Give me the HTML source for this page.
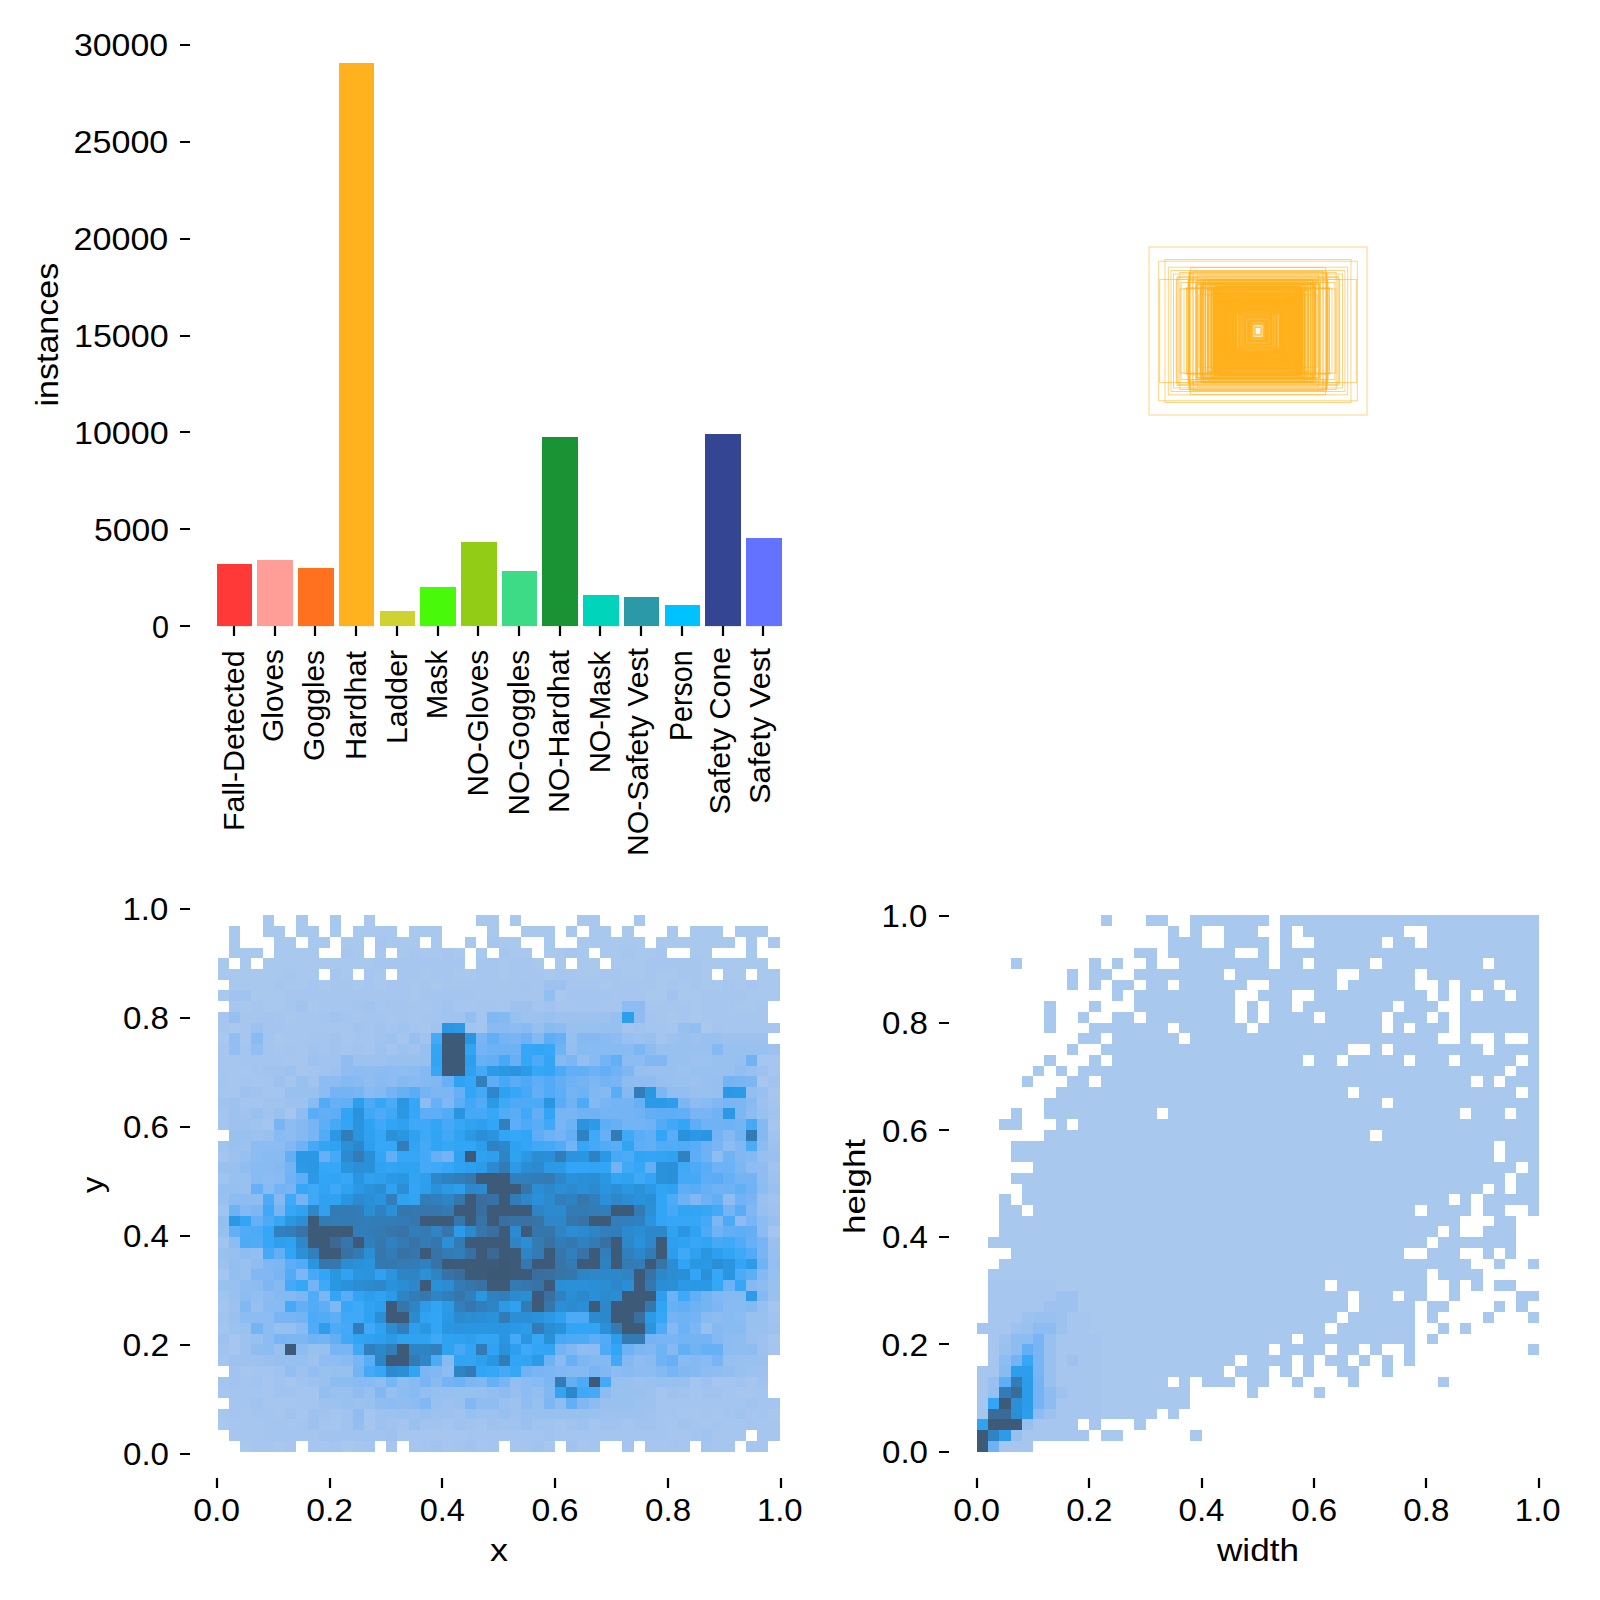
<!DOCTYPE html>
<html><head><meta charset="utf-8"><title>labels</title>
<style>html,body{margin:0;padding:0;background:#fff}svg{display:block}text{font-family:"Liberation Sans",sans-serif;fill:#000}</style>
</head><body>
<svg width="1600" height="1600" viewBox="0 0 1600 1600">
<rect width="1600" height="1600" fill="#fff"/>
<rect x="217" y="564" width="35" height="62.11" fill="#FF3838"/>
<rect x="257" y="560" width="36" height="66.11" fill="#FF9D97"/>
<rect x="298" y="568" width="36" height="58.11" fill="#FF701F"/>
<rect x="339" y="63" width="35" height="563.11" fill="#FFB21D"/>
<rect x="380" y="611" width="35" height="15.11" fill="#CFD231"/>
<rect x="420" y="587" width="36" height="39.11" fill="#48F90A"/>
<rect x="461" y="542" width="36" height="84.11" fill="#92CC17"/>
<rect x="502" y="571" width="35" height="55.11" fill="#3DDB86"/>
<rect x="542" y="437" width="36" height="189.11" fill="#1A9334"/>
<rect x="583" y="595" width="36" height="31.11" fill="#00D4BB"/>
<rect x="624" y="597" width="35" height="29.11" fill="#2C99A8"/>
<rect x="665" y="605" width="35" height="21.11" fill="#00C2FF"/>
<rect x="705" y="434" width="36" height="192.11" fill="#344593"/>
<rect x="746" y="538" width="36" height="88.11" fill="#6473FF"/>
<g fill="none" stroke="#FFB21D" stroke-width="0.9" stroke-opacity="0.62"><rect x="1251.89" y="322.62" width="12.23" height="16.76"/><rect x="1251.02" y="320.74" width="13.95" height="20.53"/><rect x="1251.3" y="321.21" width="13.4" height="19.58"/><rect x="1254.85" y="327.12" width="6.29" height="7.75"/><rect x="1250.28" y="320.78" width="15.43" height="20.44"/><rect x="1250.5" y="323.07" width="15.01" height="15.86"/><rect x="1252.65" y="325" width="10.69" height="12.01"/><rect x="1252.28" y="323.64" width="11.44" height="14.72"/><rect x="1254.93" y="327.6" width="6.13" height="6.8"/><rect x="1253.6" y="324.59" width="8.79" height="12.82"/><rect x="1251.17" y="323.63" width="13.66" height="14.75"/><rect x="1251.01" y="323.53" width="13.97" height="14.94"/><rect x="1251.91" y="324.53" width="12.17" height="12.95"/><rect x="1254.99" y="326.68" width="6.02" height="8.64"/><rect x="1247.07" y="319.98" width="21.86" height="22.03"/><rect x="1236.25" y="301.93" width="43.51" height="58.14"/><rect x="1245.95" y="314.36" width="24.1" height="33.28"/><rect x="1242.45" y="311.74" width="31.1" height="38.53"/><rect x="1247.13" y="316.11" width="21.73" height="29.79"/><rect x="1240.33" y="306.56" width="35.34" height="48.88"/><rect x="1237.49" y="309.47" width="41.02" height="43.05"/><rect x="1244.94" y="318.17" width="26.11" height="25.67"/><rect x="1247.96" y="321.64" width="20.08" height="18.73"/><rect x="1245.78" y="316.32" width="24.44" height="29.36"/><rect x="1249.95" y="321.03" width="16.09" height="19.94"/><rect x="1245.27" y="317.57" width="25.46" height="26.86"/><rect x="1238.54" y="308.81" width="38.92" height="44.38"/><rect x="1245.58" y="316.83" width="24.84" height="28.34"/><rect x="1240.13" y="314.41" width="35.73" height="33.18"/><rect x="1236.35" y="311.27" width="43.3" height="39.47"/><rect x="1239.5" y="306.54" width="36.99" height="48.92"/><rect x="1249.75" y="320.32" width="16.51" height="21.36"/><rect x="1244.87" y="315.39" width="26.25" height="31.22"/><rect x="1249.87" y="323.5" width="16.25" height="15.01"/><rect x="1247.47" y="316.49" width="21.07" height="29.02"/><rect x="1247.25" y="317.26" width="21.5" height="27.48"/><rect x="1236.98" y="302.19" width="42.03" height="57.62"/><rect x="1245.18" y="317.19" width="25.64" height="27.63"/><rect x="1242.65" y="311.24" width="30.69" height="39.52"/><rect x="1248.49" y="318.88" width="19.03" height="24.24"/><rect x="1238.84" y="305.52" width="38.32" height="50.96"/><rect x="1249.49" y="319.31" width="17.03" height="23.37"/><rect x="1248.72" y="321.07" width="18.55" height="19.86"/><rect x="1241.45" y="308.51" width="33.1" height="44.99"/><rect x="1245.24" y="313.62" width="25.52" height="34.76"/><rect x="1242.37" y="314.49" width="31.26" height="33.02"/><rect x="1245.56" y="318.7" width="24.87" height="24.59"/><rect x="1248.91" y="322.14" width="18.19" height="17.72"/><rect x="1240.35" y="306.32" width="35.3" height="49.36"/><rect x="1247.74" y="321.52" width="20.52" height="18.97"/><rect x="1236.19" y="305.55" width="43.63" height="50.9"/><rect x="1244.32" y="317.06" width="27.36" height="27.88"/><rect x="1241.68" y="309.58" width="32.63" height="42.85"/><rect x="1243.62" y="315.03" width="28.76" height="31.95"/><rect x="1249.22" y="319.08" width="17.56" height="23.85"/><rect x="1249.54" y="321.3" width="16.92" height="19.4"/><rect x="1238.26" y="311.95" width="39.48" height="38.11"/><rect x="1239.76" y="305.92" width="36.49" height="50.17"/><rect x="1241.17" y="309.23" width="33.65" height="43.54"/><rect x="1248.51" y="320.39" width="18.99" height="21.21"/><rect x="1247.91" y="317.66" width="20.18" height="26.68"/><rect x="1245.87" y="317.34" width="24.25" height="27.32"/><rect x="1236.01" y="301.84" width="43.98" height="58.32"/><rect x="1236.34" y="306.59" width="43.33" height="48.82"/><rect x="1243.17" y="312.24" width="29.67" height="37.52"/><rect x="1243.29" y="315.62" width="29.41" height="30.75"/><rect x="1244.35" y="317.71" width="27.31" height="26.58"/><rect x="1244.72" y="312.49" width="26.56" height="37.02"/><rect x="1236.56" y="304.99" width="42.87" height="52.03"/><rect x="1243.01" y="314.97" width="29.98" height="32.06"/><rect x="1248.75" y="321.42" width="18.5" height="19.16"/><rect x="1239.05" y="305.73" width="37.9" height="50.54"/><rect x="1244.94" y="314.12" width="26.12" height="33.77"/><rect x="1239.15" y="307.49" width="37.7" height="47.02"/><rect x="1240.7" y="308.86" width="34.59" height="44.27"/><rect x="1244.91" y="314.61" width="26.18" height="32.78"/><rect x="1246.07" y="317.36" width="23.86" height="27.27"/><rect x="1239.22" y="307.62" width="37.55" height="46.77"/><rect x="1229.24" y="295.81" width="57.52" height="70.39"/><rect x="1235.73" y="311.11" width="44.53" height="39.79"/><rect x="1230.23" y="306.36" width="55.53" height="49.27"/><rect x="1221.11" y="300.71" width="73.78" height="60.59"/><rect x="1228" y="306.48" width="60" height="49.04"/><rect x="1227.95" y="307.57" width="60.1" height="46.86"/><rect x="1215.99" y="296.8" width="84.02" height="68.41"/><rect x="1224.08" y="309.59" width="67.83" height="42.81"/><rect x="1232.18" y="300.17" width="51.64" height="61.66"/><rect x="1220.1" y="304.88" width="75.81" height="52.24"/><rect x="1219.2" y="287.71" width="77.6" height="86.59"/><rect x="1220.69" y="287.66" width="74.62" height="86.68"/><rect x="1221.65" y="294.38" width="72.69" height="73.23"/><rect x="1235.36" y="313.7" width="45.27" height="34.59"/><rect x="1225.86" y="301.92" width="64.29" height="58.16"/><rect x="1221.49" y="298.84" width="73.02" height="64.33"/><rect x="1225.15" y="298.85" width="65.69" height="64.29"/><rect x="1228.7" y="300.93" width="58.6" height="60.15"/><rect x="1231.55" y="300.1" width="52.89" height="61.79"/><rect x="1221.93" y="294.48" width="72.14" height="73.03"/><rect x="1230.53" y="304.21" width="54.94" height="53.59"/><rect x="1229.59" y="303.53" width="56.81" height="54.94"/><rect x="1233.35" y="305.08" width="49.29" height="51.85"/><rect x="1221.89" y="300.64" width="72.22" height="60.72"/><rect x="1223.46" y="301.25" width="69.08" height="59.49"/><rect x="1217.17" y="287.66" width="81.65" height="86.68"/><rect x="1217.3" y="295.34" width="81.4" height="71.31"/><rect x="1222.29" y="300.49" width="71.41" height="61.02"/><rect x="1213.98" y="287.8" width="88.03" height="86.4"/><rect x="1215.45" y="291.58" width="85.1" height="78.83"/><rect x="1233.52" y="311.84" width="48.96" height="38.32"/><rect x="1221.52" y="298.79" width="72.95" height="64.42"/><rect x="1227.36" y="304.38" width="61.29" height="53.24"/><rect x="1213.63" y="287.74" width="88.73" height="86.52"/><rect x="1213.89" y="287.98" width="88.21" height="86.04"/><rect x="1213.44" y="292.57" width="89.13" height="76.86"/><rect x="1226.44" y="306.08" width="63.11" height="49.83"/><rect x="1229.41" y="287.73" width="57.17" height="86.53"/><rect x="1233.2" y="309.92" width="49.61" height="42.15"/><rect x="1218.02" y="296.84" width="79.96" height="68.31"/><rect x="1235.7" y="312.05" width="44.61" height="37.89"/><rect x="1218.02" y="293.26" width="79.97" height="75.49"/><rect x="1229.84" y="294.59" width="56.31" height="72.82"/><rect x="1222.02" y="287.55" width="71.97" height="86.9"/><rect x="1221.17" y="302.4" width="73.66" height="57.21"/><rect x="1218.51" y="298.68" width="78.98" height="64.64"/><rect x="1223.73" y="300.1" width="68.54" height="61.8"/><rect x="1225.32" y="295.16" width="65.36" height="71.68"/><rect x="1218.86" y="294.47" width="78.27" height="73.05"/><rect x="1225.52" y="300.26" width="64.96" height="61.48"/><rect x="1215.58" y="290.97" width="84.85" height="80.07"/><rect x="1226.16" y="300.36" width="63.68" height="61.29"/><rect x="1219.71" y="298.42" width="76.58" height="65.16"/><rect x="1227.13" y="305.06" width="61.73" height="51.87"/><rect x="1216.41" y="288.69" width="83.19" height="84.62"/><rect x="1234.48" y="304.89" width="47.04" height="52.22"/><rect x="1220.02" y="298.55" width="75.95" height="64.89"/><rect x="1215.05" y="288.21" width="85.89" height="85.57"/><rect x="1225" y="304.52" width="66.01" height="52.97"/><rect x="1232.47" y="307.68" width="51.06" height="46.64"/><rect x="1217.33" y="286.86" width="81.34" height="88.27"/><rect x="1217.79" y="289.93" width="80.42" height="82.15"/><rect x="1235.41" y="310.78" width="45.18" height="40.44"/><rect x="1219.87" y="307.75" width="76.26" height="46.5"/><rect x="1216.63" y="288.92" width="82.73" height="84.16"/><rect x="1219.61" y="288.23" width="76.77" height="85.54"/><rect x="1229.27" y="300.67" width="57.45" height="60.66"/><rect x="1226.48" y="301.84" width="63.04" height="58.33"/><rect x="1221.68" y="292.89" width="72.63" height="76.23"/><rect x="1234.34" y="307.53" width="47.31" height="46.93"/><rect x="1222.77" y="297.38" width="70.46" height="67.24"/><rect x="1226.07" y="309.14" width="63.86" height="43.73"/><rect x="1222.19" y="307.72" width="71.61" height="46.55"/><rect x="1234.72" y="307.8" width="46.56" height="46.39"/><rect x="1232.52" y="309.44" width="50.95" height="43.12"/><rect x="1223.24" y="301.91" width="69.52" height="58.17"/><rect x="1229.95" y="306.93" width="56.11" height="48.13"/><rect x="1224.11" y="299.45" width="67.78" height="63.1"/><rect x="1230.61" y="309.05" width="54.78" height="43.89"/><rect x="1219.59" y="287.19" width="76.81" height="87.62"/><rect x="1234.04" y="308.58" width="47.92" height="44.83"/><rect x="1222.34" y="298.56" width="71.32" height="64.88"/><rect x="1215.83" y="295.75" width="84.34" height="70.51"/><rect x="1235.32" y="308.58" width="45.36" height="44.83"/><rect x="1234.77" y="302.21" width="46.47" height="57.59"/><rect x="1230.87" y="294" width="54.26" height="74"/><rect x="1213.63" y="294.32" width="88.74" height="73.37"/><rect x="1221.63" y="304.09" width="72.74" height="53.82"/><rect x="1230.59" y="307.34" width="54.81" height="47.31"/><rect x="1227.13" y="294.29" width="61.74" height="73.41"/><rect x="1216.88" y="297.8" width="82.23" height="66.4"/><rect x="1216.41" y="299.45" width="83.17" height="63.11"/><rect x="1222.37" y="304.07" width="71.26" height="53.86"/><rect x="1233.77" y="310.23" width="48.46" height="41.55"/><rect x="1231.34" y="294.45" width="53.31" height="73.1"/><rect x="1218.51" y="289.17" width="78.98" height="83.65"/><rect x="1225.19" y="292.8" width="65.63" height="76.39"/><rect x="1225.29" y="303.7" width="65.42" height="54.59"/><rect x="1232.44" y="303.89" width="51.11" height="54.23"/><rect x="1215.75" y="288.2" width="84.5" height="85.61"/><rect x="1230.16" y="304.44" width="55.69" height="53.11"/><rect x="1230.59" y="301.62" width="54.82" height="58.76"/><rect x="1235.26" y="305.49" width="45.48" height="51.03"/><rect x="1220.18" y="296.93" width="75.63" height="68.13"/><rect x="1225.15" y="296.46" width="65.7" height="69.08"/><rect x="1229.3" y="303.94" width="57.39" height="54.12"/><rect x="1219.23" y="291.08" width="77.55" height="79.83"/><rect x="1230.7" y="301.8" width="54.6" height="58.41"/><rect x="1226.78" y="295.46" width="62.45" height="71.09"/><rect x="1225.24" y="300.04" width="65.53" height="61.92"/><rect x="1219.16" y="294.06" width="77.69" height="73.88"/><rect x="1220.54" y="298.09" width="74.92" height="65.82"/><rect x="1221.14" y="307.49" width="73.71" height="47.02"/><rect x="1234.6" y="303.39" width="46.8" height="55.22"/><rect x="1226.57" y="293.52" width="62.87" height="74.96"/><rect x="1224.06" y="296.04" width="67.87" height="69.92"/><rect x="1233.84" y="298.45" width="48.32" height="65.09"/><rect x="1214.48" y="288.39" width="87.04" height="85.22"/><rect x="1230.4" y="299.49" width="55.2" height="63.02"/><rect x="1230.13" y="302.47" width="55.75" height="57.07"/><rect x="1228.96" y="301.53" width="58.07" height="58.93"/><rect x="1231.87" y="305.27" width="52.25" height="51.47"/><rect x="1226.75" y="302.72" width="62.51" height="56.56"/><rect x="1233.52" y="307.57" width="48.97" height="46.86"/><rect x="1214.81" y="299.11" width="86.38" height="63.78"/><rect x="1235.6" y="313.1" width="44.8" height="35.81"/><rect x="1224.81" y="303.25" width="66.38" height="55.51"/><rect x="1219.31" y="296.05" width="77.38" height="69.9"/><rect x="1228.92" y="310.14" width="58.15" height="41.72"/><rect x="1233.34" y="304.55" width="49.32" height="52.9"/><rect x="1233.98" y="306.64" width="48.03" height="48.71"/><rect x="1233.01" y="313.24" width="49.97" height="35.52"/><rect x="1230.37" y="299.68" width="55.26" height="62.63"/><rect x="1230.36" y="301.62" width="55.29" height="58.76"/><rect x="1219.89" y="289.78" width="76.23" height="82.44"/><rect x="1227.4" y="300.29" width="61.19" height="61.42"/><rect x="1226.33" y="303.49" width="63.35" height="55.01"/><rect x="1215.39" y="287.19" width="85.22" height="87.62"/><rect x="1218.53" y="298.48" width="78.95" height="65.04"/><rect x="1220.92" y="297.89" width="74.15" height="66.22"/><rect x="1219.26" y="294.89" width="77.49" height="72.21"/><rect x="1227.2" y="304.7" width="61.59" height="52.59"/><rect x="1234.48" y="306.66" width="47.03" height="48.68"/><rect x="1229.43" y="299.87" width="57.13" height="62.27"/><rect x="1218.43" y="294.02" width="79.13" height="73.96"/><rect x="1233.01" y="307.09" width="49.99" height="47.83"/><rect x="1216.22" y="288.04" width="83.55" height="85.92"/><rect x="1226.14" y="302.26" width="63.73" height="57.47"/><rect x="1228.4" y="295.04" width="59.2" height="71.91"/><rect x="1219.28" y="292.76" width="77.43" height="76.48"/><rect x="1223.8" y="293.32" width="68.39" height="75.36"/><rect x="1214.41" y="286.91" width="87.17" height="88.18"/><rect x="1233.28" y="310.44" width="49.44" height="41.11"/><rect x="1226.01" y="287.62" width="63.97" height="86.77"/><rect x="1218.35" y="286.56" width="79.31" height="88.88"/><rect x="1222.29" y="299.07" width="71.42" height="63.87"/><rect x="1217.27" y="293.36" width="81.46" height="75.29"/><rect x="1235.24" y="308.31" width="45.51" height="45.38"/><rect x="1224.91" y="294.61" width="66.17" height="72.77"/><rect x="1229.63" y="306.45" width="56.74" height="49.09"/><rect x="1223.06" y="302.58" width="69.87" height="56.83"/><rect x="1227.91" y="294.55" width="60.18" height="72.91"/><rect x="1213.4" y="287.26" width="89.19" height="87.47"/><rect x="1226.78" y="308.09" width="62.44" height="45.83"/><rect x="1216.87" y="292.92" width="82.26" height="76.16"/><rect x="1233.73" y="307.38" width="48.54" height="47.24"/><rect x="1215.3" y="287.85" width="85.41" height="86.3"/><rect x="1220.29" y="286.77" width="75.41" height="88.45"/><rect x="1221.67" y="293.88" width="72.66" height="74.24"/><rect x="1224.23" y="302.99" width="67.54" height="56.02"/><rect x="1231.75" y="308.27" width="52.5" height="45.46"/><rect x="1228.82" y="299.85" width="58.36" height="62.29"/><rect x="1225.05" y="300.57" width="65.9" height="60.86"/><rect x="1217.24" y="297.44" width="81.51" height="67.12"/><rect x="1220.07" y="297.74" width="75.87" height="66.53"/><rect x="1227.66" y="306.52" width="60.69" height="48.95"/><rect x="1220.37" y="299.18" width="75.26" height="63.64"/><rect x="1233.99" y="308.15" width="48.01" height="45.7"/><rect x="1222.65" y="296.13" width="70.7" height="69.73"/><rect x="1214.63" y="298.83" width="86.74" height="64.35"/><rect x="1219.53" y="287.16" width="76.94" height="87.68"/><rect x="1213.99" y="286.71" width="88.02" height="88.59"/><rect x="1220.18" y="288.51" width="75.63" height="84.99"/><rect x="1231.2" y="310.47" width="53.6" height="41.05"/><rect x="1215.39" y="288.32" width="85.22" height="85.36"/><rect x="1226.95" y="288.49" width="62.1" height="85.01"/><rect x="1227.03" y="297.52" width="61.95" height="66.97"/><rect x="1215.07" y="287.27" width="85.87" height="87.45"/><rect x="1227.11" y="294.34" width="61.79" height="73.33"/><rect x="1219.55" y="287.75" width="76.9" height="86.5"/><rect x="1215.6" y="288.45" width="84.79" height="85.11"/><rect x="1221.69" y="290.42" width="72.62" height="81.16"/><rect x="1232.15" y="310.35" width="51.7" height="41.3"/><rect x="1234.56" y="312.65" width="46.88" height="36.7"/><rect x="1216.9" y="287.67" width="82.19" height="86.67"/><rect x="1226.22" y="305.48" width="63.57" height="51.04"/><rect x="1215.19" y="291.27" width="85.62" height="79.47"/><rect x="1213.77" y="288.13" width="88.46" height="85.75"/><rect x="1235.3" y="305.06" width="45.4" height="51.88"/><rect x="1231.77" y="301.57" width="52.46" height="58.86"/><rect x="1204.08" y="285.01" width="107.84" height="91.98"/><rect x="1202.65" y="283.61" width="110.71" height="94.78"/><rect x="1212.08" y="287.76" width="91.84" height="86.48"/><rect x="1200.48" y="279.73" width="115.04" height="102.55"/><rect x="1208.22" y="281.54" width="99.55" height="98.91"/><rect x="1203.32" y="280.25" width="109.36" height="101.51"/><rect x="1209.56" y="284.15" width="96.87" height="93.69"/><rect x="1200.39" y="287.9" width="115.22" height="86.21"/><rect x="1211.49" y="292.71" width="93.02" height="76.58"/><rect x="1210.65" y="294.42" width="94.7" height="73.16"/><rect x="1210.72" y="285.53" width="94.56" height="90.93"/><rect x="1211.43" y="283.11" width="93.15" height="95.77"/><rect x="1201.96" y="282.12" width="112.09" height="97.76"/><rect x="1200.94" y="283.88" width="114.11" height="94.25"/><rect x="1199.14" y="279.73" width="117.72" height="102.53"/><rect x="1203.62" y="279.59" width="108.75" height="102.81"/><rect x="1211.45" y="294.25" width="93.1" height="73.5"/><rect x="1212.03" y="292.49" width="91.93" height="77.02"/><rect x="1207.38" y="288.2" width="101.23" height="85.59"/><rect x="1202.79" y="283.37" width="110.42" height="95.26"/><rect x="1211.74" y="289.14" width="92.51" height="83.71"/><rect x="1204.85" y="289.62" width="106.3" height="82.76"/><rect x="1211.24" y="285.85" width="93.53" height="90.3"/><rect x="1207.38" y="284.38" width="101.23" height="93.25"/><rect x="1205.57" y="279.63" width="104.87" height="102.73"/><rect x="1198.82" y="294.77" width="118.35" height="72.45"/><rect x="1201.6" y="283.74" width="112.79" height="94.52"/><rect x="1208.56" y="294.01" width="98.88" height="73.97"/><rect x="1205.81" y="289.98" width="104.37" height="82.04"/><rect x="1201.94" y="280.39" width="112.12" height="101.23"/><rect x="1207.27" y="291.06" width="101.46" height="79.88"/><rect x="1205.52" y="284.15" width="104.96" height="93.69"/><rect x="1201.16" y="286.21" width="113.67" height="89.57"/><rect x="1208.56" y="290.27" width="98.88" height="81.46"/><rect x="1200.28" y="287.17" width="115.44" height="87.65"/><rect x="1212.24" y="288.85" width="91.51" height="84.31"/><rect x="1192.77" y="277.01" width="130.46" height="107.98"/><rect x="1196.39" y="284.12" width="123.23" height="93.76"/><rect x="1195.89" y="280.4" width="124.22" height="101.19"/><rect x="1176.34" y="279.26" width="163.32" height="103.49"/><rect x="1189.5" y="272.19" width="137" height="117.62"/><rect x="1195.98" y="282.6" width="124.04" height="96.81"/><rect x="1180.16" y="288.91" width="155.67" height="84.18"/><rect x="1181.15" y="282.5" width="153.7" height="97"/><rect x="1197.64" y="284.48" width="120.72" height="93.03"/><rect x="1187.92" y="282.11" width="140.16" height="97.78"/><rect x="1186.63" y="288.04" width="142.74" height="85.91"/><rect x="1193.19" y="271.46" width="129.62" height="119.07"/><rect x="1188.26" y="280.51" width="139.48" height="100.99"/><rect x="1196.12" y="283.98" width="123.76" height="94.05"/><rect x="1177" y="276.63" width="162.01" height="108.73"/><rect x="1186.83" y="288.05" width="142.34" height="85.91"/><rect x="1189.36" y="274.99" width="137.28" height="112.02"/><rect x="1188.44" y="278.32" width="139.13" height="105.37"/><rect x="1178.15" y="277.39" width="159.7" height="107.22"/><rect x="1184.01" y="288.35" width="147.98" height="85.3"/><rect x="1197.48" y="275.15" width="121.05" height="111.7"/><rect x="1188.91" y="273.26" width="138.18" height="115.47"/><rect x="1179.83" y="272.52" width="156.33" height="116.95"/><rect x="1189.67" y="271.02" width="136.66" height="119.97"/><rect x="1149" y="247" width="218" height="168"/><rect x="1158.7" y="261.2" width="198.6" height="139.6"/><rect x="1165" y="259.5" width="186" height="143"/><rect x="1168.3" y="267.2" width="179.4" height="127.6"/><rect x="1159.7" y="279.4" width="196.6" height="103.2"/><rect x="1171" y="270.5" width="174" height="121"/><rect x="1173.5" y="274" width="169" height="114"/><rect x="1190.6" y="267.4" width="134.8" height="127.2"/></g>
<g shape-rendering="crispEdges"><path fill="#a9c8ee" d="M263 915H274V926H263ZM296 915H308V926H296ZM330 915H341V926H330ZM364 915H375V926H364ZM476 915H499V926H476ZM510 915H521V926H510ZM577 915H600V926H577ZM634 915H645V926H634ZM229 926H240V937H229ZM263 926H285V937H263ZM296 926H319V937H296ZM330 926H341V937H330ZM353 926H397V937H353ZM409 926H442V937H409ZM487 926H499V937H487ZM521 926H555V937H521ZM566 926H577V937H566ZM589 926H611V937H589ZM622 926H634V937H622ZM667 926H678V937H667ZM690 926H723V937H690ZM735 926H768V937H735ZM229 937H240V948H229ZM274 937H296V948H274ZM308 937H330V948H308ZM341 937H364V948H341ZM386 937H420V948H386ZM431 937H442V948H431ZM465 937H476V948H465ZM499 937H521V948H499ZM544 937H555V948H544ZM577 937H645V948H577ZM656 937H735V948H656ZM746 937H757V948H746ZM768 937H780V948H768ZM229 948H263V958H229ZM274 948H319V958H274ZM353 948H364V958H353ZM375 948H386V958H375ZM397 948H409V958H397ZM420 948H442V958H420ZM454 948H465V958H454ZM476 948H487V958H476ZM510 948H532V958H510ZM544 948H566V958H544ZM577 948H589V958H577ZM600 948H622V958H600ZM634 948H656V958H634ZM690 948H712V958H690ZM746 948H757V958H746ZM218 958H229V969H218ZM240 958H251V969H240ZM263 958H375V969H263ZM499 958H510V969H499ZM532 958H544V969H532ZM555 958H566V969H555ZM577 958H600V969H577ZM611 958H645V969H611ZM701 958H768V969H701ZM218 969H285V980H218ZM296 969H319V980H296ZM341 969H353V980H341ZM375 969H386V980H375ZM420 969H431V980H420ZM454 969H476V980H454ZM499 969H510V980H499ZM544 969H555V980H544ZM577 969H600V980H577ZM622 969H645V980H622ZM656 969H678V980H656ZM701 969H712V980H701ZM723 969H746V980H723ZM757 969H780V980H757ZM229 980H274V990H229ZM285 980H308V990H285ZM319 980H330V990H319ZM353 980H364V990H353ZM375 980H386V990H375ZM409 980H420V990H409ZM431 980H442V990H431ZM600 980H611V990H600ZM656 980H667V990H656ZM678 980H690V990H678ZM701 980H723V990H701ZM735 980H746V990H735ZM757 980H780V990H757ZM218 990H229V1001H218ZM251 990H285V1001H251ZM409 990H420V1001H409ZM555 990H566V1001H555ZM645 990H667V1001H645ZM678 990H701V1001H678ZM746 990H780V1001H746ZM240 1001H251V1012H240ZM263 1001H285V1012H263ZM308 1001H319V1012H308ZM690 1001H701V1012H690ZM735 1001H757V1012H735ZM285 1012H296V1023H285ZM667 1012H678V1023H667ZM690 1012H701V1023H690ZM229 1023H240V1033H229ZM701 1023H712V1033H701ZM218 1033H229V1044H218ZM274 1033H285V1044H274ZM768 1409H780V1419H768ZM218 1419H229V1430H218ZM240 1441H251V1452H240ZM274 1441H285V1452H274ZM341 1441H353V1452H341Z"/>
<path fill="#a6c6ef" d="M375 937H386V948H375ZM487 937H499V948H487ZM341 948H353V958H341ZM409 948H420V958H409ZM442 948H454V958H442ZM499 948H510V958H499ZM566 948H577V958H566ZM622 948H634V958H622ZM656 948H667V958H656ZM375 958H465V969H375ZM476 958H499V969H476ZM510 958H532V969H510ZM645 958H701V969H645ZM285 969H296V980H285ZM330 969H341V980H330ZM364 969H375V980H364ZM397 969H420V980H397ZM431 969H454V980H431ZM476 969H499V980H476ZM510 969H544V980H510ZM555 969H577V980H555ZM600 969H622V980H600ZM645 969H656V980H645ZM678 969H701V980H678ZM274 980H285V990H274ZM308 980H319V990H308ZM330 980H353V990H330ZM364 980H375V990H364ZM386 980H409V990H386ZM420 980H431V990H420ZM442 980H521V990H442ZM532 980H544V990H532ZM566 980H600V990H566ZM611 980H656V990H611ZM667 980H678V990H667ZM690 980H701V990H690ZM723 980H735V990H723ZM746 980H757V990H746ZM285 990H409V1001H285ZM476 990H544V1001H476ZM611 990H645V1001H611ZM701 990H746V1001H701ZM229 1001H240V1012H229ZM251 1001H263V1012H251ZM285 1001H296V1012H285ZM319 1001H353V1012H319ZM375 1001H386V1012H375ZM409 1001H431V1012H409ZM454 1001H476V1012H454ZM499 1001H510V1012H499ZM555 1001H577V1012H555ZM600 1001H622V1012H600ZM645 1001H690V1012H645ZM701 1001H735V1012H701ZM757 1001H768V1012H757ZM218 1012H229V1023H218ZM240 1012H263V1023H240ZM274 1012H285V1023H274ZM296 1012H319V1023H296ZM353 1012H364V1023H353ZM386 1012H397V1023H386ZM409 1012H420V1023H409ZM656 1012H667V1023H656ZM678 1012H690V1023H678ZM701 1012H768V1023H701ZM218 1023H229V1033H218ZM240 1023H251V1033H240ZM285 1023H353V1033H285ZM420 1023H431V1033H420ZM667 1023H678V1033H667ZM723 1023H780V1033H723ZM240 1033H251V1044H240ZM285 1033H308V1044H285ZM341 1033H353V1044H341ZM218 1044H229V1055H218ZM274 1044H285V1055H274ZM296 1044H308V1055H296ZM218 1055H240V1066H218ZM285 1055H308V1066H285ZM757 1055H780V1066H757ZM229 1066H251V1076H229ZM296 1066H308V1076H296ZM768 1066H780V1076H768ZM229 1076H240V1087H229ZM251 1076H263V1087H251ZM757 1076H768V1087H757ZM218 1087H240V1098H218ZM768 1087H780V1098H768ZM768 1119H780V1130H768ZM229 1334H240V1344H229ZM768 1334H780V1344H768ZM229 1344H240V1355H229ZM240 1366H251V1377H240ZM263 1377H274V1387H263ZM285 1377H296V1387H285ZM712 1377H723V1387H712ZM746 1377H757V1387H746ZM218 1387H229V1398H218ZM263 1387H274V1398H263ZM735 1387H757V1398H735ZM263 1398H296V1409H263ZM218 1409H229V1419H218ZM240 1409H251V1419H240ZM274 1409H285V1419H274ZM296 1409H308V1419H296ZM678 1409H701V1419H678ZM712 1409H723V1419H712ZM746 1409H757V1419H746ZM229 1419H263V1430H229ZM285 1419H296V1430H285ZM330 1419H341V1430H330ZM364 1419H375V1430H364ZM667 1419H678V1430H667ZM701 1419H712V1430H701ZM723 1419H746V1430H723ZM757 1419H780V1430H757ZM229 1430H263V1441H229ZM397 1430H465V1441H397ZM667 1430H690V1441H667ZM712 1430H746V1441H712ZM757 1430H780V1441H757ZM251 1441H274V1452H251ZM285 1441H296V1452H285ZM308 1441H330V1452H308ZM353 1441H364V1452H353ZM386 1441H397V1452H386ZM409 1441H420V1452H409ZM442 1441H454V1452H442ZM476 1441H487V1452H476ZM510 1441H521V1452H510ZM544 1441H555V1452H544ZM577 1441H589V1452H577ZM645 1441H667V1452H645ZM678 1441H690V1452H678ZM712 1441H735V1452H712ZM746 1441H768V1452H746Z"/>
<path fill="#a3c5ef" d="M521 980H532V990H521ZM420 990H476V1001H420ZM566 990H611V1001H566ZM353 1001H364V1012H353ZM386 1001H409V1012H386ZM431 1001H442V1012H431ZM476 1001H499V1012H476ZM532 1001H544V1012H532ZM577 1001H600V1012H577ZM263 1012H274V1023H263ZM319 1012H330V1023H319ZM341 1012H353V1023H341ZM364 1012H386V1023H364ZM397 1012H409V1023H397ZM420 1012H442V1023H420ZM476 1012H487V1023H476ZM645 1012H656V1023H645ZM263 1023H285V1033H263ZM364 1023H375V1033H364ZM386 1023H397V1033H386ZM409 1023H420V1033H409ZM476 1023H487V1033H476ZM622 1023H634V1033H622ZM645 1023H667V1033H645ZM712 1023H723V1033H712ZM263 1033H274V1044H263ZM308 1033H330V1044H308ZM353 1033H375V1044H353ZM397 1033H409V1044H397ZM656 1033H667V1044H656ZM240 1044H251V1055H240ZM263 1044H274V1055H263ZM285 1044H296V1055H285ZM319 1044H330V1055H319ZM341 1044H353V1055H341ZM364 1044H375V1055H364ZM386 1044H397V1055H386ZM240 1055H285V1066H240ZM218 1066H229V1076H218ZM251 1066H263V1076H251ZM308 1066H319V1076H308ZM218 1076H229V1087H218ZM240 1076H251V1087H240ZM263 1076H274V1087H263ZM285 1076H296V1087H285ZM263 1087H285V1098H263ZM240 1098H263V1108H240ZM768 1098H780V1108H768ZM218 1108H229V1119H218ZM285 1108H296V1119H285ZM218 1119H229V1130H218ZM263 1119H274V1130H263ZM218 1151H229V1162H218ZM768 1226H780V1237H768ZM218 1269H229V1280H218ZM218 1301H229V1312H218ZM768 1301H780V1312H768ZM218 1323H229V1334H218ZM768 1344H780V1355H768ZM218 1355H229V1366H218ZM251 1366H274V1377H251ZM218 1377H229V1387H218ZM240 1377H251V1387H240ZM690 1377H701V1387H690ZM723 1377H735V1387H723ZM229 1387H263V1398H229ZM296 1387H319V1398H296ZM656 1387H667V1398H656ZM690 1387H701V1398H690ZM723 1387H735V1398H723ZM757 1387H768V1398H757ZM229 1398H251V1409H229ZM296 1398H319V1409H296ZM656 1398H746V1409H656ZM757 1398H780V1409H757ZM229 1409H240V1419H229ZM251 1409H274V1419H251ZM330 1409H341V1419H330ZM364 1409H375V1419H364ZM656 1409H678V1419H656ZM701 1409H712V1419H701ZM723 1409H735V1419H723ZM757 1409H768V1419H757ZM263 1419H285V1430H263ZM296 1419H308V1430H296ZM319 1419H330V1430H319ZM397 1419H409V1430H397ZM442 1419H454V1430H442ZM476 1419H487V1430H476ZM555 1419H566V1430H555ZM589 1419H600V1430H589ZM622 1419H634V1430H622ZM656 1419H667V1430H656ZM690 1419H701V1430H690ZM712 1419H723V1430H712ZM746 1419H757V1430H746ZM263 1430H319V1441H263ZM465 1430H544V1441H465ZM555 1430H667V1441H555ZM690 1430H701V1441H690ZM330 1441H341V1452H330ZM364 1441H375V1452H364ZM420 1441H431V1452H420ZM454 1441H465V1452H454ZM487 1441H499V1452H487ZM521 1441H532V1452H521ZM589 1441H600V1452H589ZM622 1441H634V1452H622ZM667 1441H678V1452H667ZM701 1441H712V1452H701Z"/>
<path fill="#a0c4ef" d="M229 990H251V1001H229ZM667 990H678V1001H667ZM296 1001H308V1012H296ZM364 1001H375V1012H364ZM442 1001H454V1012H442ZM544 1001H555V1012H544ZM330 1012H341V1023H330ZM442 1012H465V1023H442ZM353 1023H364V1033H353ZM375 1023H386V1033H375ZM397 1023H409V1033H397ZM431 1023H442V1033H431ZM465 1023H476V1033H465ZM634 1023H645V1033H634ZM330 1033H341V1044H330ZM375 1033H386V1044H375ZM420 1033H431V1044H420ZM308 1044H319V1055H308ZM330 1044H341V1055H330ZM353 1044H364V1055H353ZM409 1044H420V1055H409ZM319 1055H341V1066H319ZM263 1066H285V1076H263ZM319 1066H330V1076H319ZM308 1076H319V1087H308ZM768 1076H780V1087H768ZM251 1087H263V1098H251ZM218 1098H229V1108H218ZM263 1098H285V1108H263ZM240 1108H251V1119H240ZM263 1108H274V1119H263ZM768 1108H780V1119H768ZM251 1119H263V1130H251ZM768 1130H780V1141H768ZM218 1141H229V1151H218ZM768 1162H780V1173H768ZM218 1173H229V1184H218ZM768 1194H780V1205H768ZM218 1205H229V1216H218ZM218 1237H229V1248H218ZM218 1291H229V1301H218ZM218 1312H229V1323H218ZM768 1312H780V1323H768ZM218 1344H229V1355H218ZM229 1366H240V1377H229ZM274 1366H285V1377H274ZM229 1377H240V1387H229ZM251 1377H263V1387H251ZM274 1377H285V1387H274ZM296 1377H308V1387H296ZM735 1377H746V1387H735ZM757 1377H768V1387H757ZM274 1387H296V1398H274ZM678 1387H690V1398H678ZM701 1387H723V1398H701ZM251 1398H263V1409H251ZM746 1398H757V1409H746ZM285 1409H296V1419H285ZM319 1409H330V1419H319ZM341 1409H353V1419H341ZM454 1409H465V1419H454ZM645 1409H656V1419H645ZM735 1409H746V1419H735ZM341 1419H353V1430H341ZM386 1419H397V1430H386ZM420 1419H442V1430H420ZM465 1419H476V1430H465ZM499 1419H521V1430H499ZM532 1419H555V1430H532ZM566 1419H577V1430H566ZM600 1419H622V1430H600ZM634 1419H656V1430H634ZM678 1419H690V1430H678ZM319 1430H386V1441H319ZM544 1430H555V1441H544ZM701 1430H712V1441H701ZM431 1441H442V1452H431ZM465 1441H476V1452H465ZM532 1441H544V1452H532ZM566 1441H577V1452H566Z"/>
<path fill="#9dc2f0" d="M544 980H566V990H544ZM510 1001H532V1012H510ZM521 1012H544V1023H521ZM555 1012H611V1023H555ZM251 1023H263V1033H251ZM386 1033H397V1044H386ZM634 1033H645V1044H634ZM667 1033H678V1044H667ZM690 1033H701V1044H690ZM723 1033H768V1044H723ZM375 1044H386V1055H375ZM397 1044H409V1055H397ZM768 1044H780V1055H768ZM308 1055H319V1066H308ZM353 1055H386V1066H353ZM690 1055H712V1066H690ZM285 1066H296V1076H285ZM330 1066H341V1076H330ZM678 1066H690V1076H678ZM757 1066H768V1076H757ZM274 1076H285V1087H274ZM690 1076H701V1087H690ZM240 1087H251V1098H240ZM229 1098H240V1108H229ZM285 1098H308V1108H285ZM757 1098H768V1108H757ZM229 1108H240V1119H229ZM229 1119H251V1130H229ZM251 1130H263V1141H251ZM240 1141H251V1151H240ZM768 1141H780V1151H768ZM229 1151H240V1162H229ZM768 1173H780V1184H768ZM768 1205H780V1216H768ZM218 1259H229V1269H218ZM229 1301H240V1312H229ZM229 1323H240V1334H229ZM768 1323H780V1334H768ZM218 1334H229V1344H218ZM240 1334H251V1344H240ZM757 1334H768V1344H757ZM240 1344H251V1355H240ZM757 1344H768V1355H757ZM229 1355H263V1366H229ZM308 1355H319V1366H308ZM296 1366H308V1377H296ZM746 1366H768V1377H746ZM308 1377H319V1387H308ZM634 1377H645V1387H634ZM701 1377H712V1387H701ZM645 1387H656V1398H645ZM667 1387H678V1398H667ZM319 1398H341V1409H319ZM353 1398H364V1409H353ZM442 1398H454V1409H442ZM510 1398H521V1409H510ZM634 1398H656V1409H634ZM308 1409H319V1419H308ZM375 1409H397V1419H375ZM409 1409H420V1419H409ZM431 1409H454V1419H431ZM476 1409H499V1419H476ZM510 1409H521V1419H510ZM600 1409H645V1419H600ZM308 1419H319V1430H308ZM375 1419H386V1430H375ZM454 1419H465V1430H454ZM487 1419H499V1430H487ZM577 1419H589V1430H577ZM386 1430H397V1441H386Z"/>
<path fill="#99c1f0" d="M544 1012H555V1023H544ZM566 1023H600V1033H566ZM622 1033H634V1044H622ZM645 1033H656V1044H645ZM678 1033H690V1044H678ZM701 1033H723V1044H701ZM656 1044H712V1055H656ZM723 1044H768V1055H723ZM386 1055H420V1066H386ZM667 1055H690V1066H667ZM712 1055H735V1066H712ZM645 1066H678V1076H645ZM690 1066H735V1076H690ZM746 1066H757V1076H746ZM296 1076H308V1087H296ZM667 1076H690V1087H667ZM701 1076H712V1087H701ZM285 1087H319V1098H285ZM690 1087H712V1098H690ZM757 1087H768V1098H757ZM251 1108H263V1119H251ZM274 1108H285V1119H274ZM757 1108H768V1119H757ZM229 1130H251V1141H229ZM263 1130H274V1141H263ZM229 1141H240V1151H229ZM768 1151H780V1162H768ZM218 1162H240V1173H218ZM229 1173H251V1184H229ZM240 1184H251V1194H240ZM768 1184H780V1194H768ZM218 1194H229V1205H218ZM757 1194H768V1205H757ZM768 1237H780V1248H768ZM218 1248H229V1259H218ZM240 1259H251V1269H240ZM240 1269H251V1280H240ZM218 1280H240V1291H218ZM768 1280H780V1291H768ZM229 1291H240V1301H229ZM768 1291H780V1301H768ZM229 1312H240V1323H229ZM746 1312H768V1323H746ZM240 1323H251V1334H240ZM746 1323H768V1334H746ZM746 1334H757V1344H746ZM274 1344H285V1355H274ZM308 1344H319V1355H308ZM263 1355H274V1366H263ZM735 1355H768V1366H735ZM319 1366H330V1377H319ZM735 1366H746V1377H735ZM319 1377H330V1387H319ZM622 1377H634V1387H622ZM645 1377H656V1387H645ZM667 1377H690V1387H667ZM330 1387H353V1398H330ZM454 1387H476V1398H454ZM611 1387H645V1398H611ZM341 1398H353V1409H341ZM364 1398H375V1409H364ZM431 1398H442V1409H431ZM454 1398H465V1409H454ZM499 1398H510V1409H499ZM600 1398H634V1409H600ZM397 1409H409V1419H397ZM420 1409H431V1419H420ZM465 1409H476V1419H465ZM521 1409H600V1419H521ZM409 1419H420V1430H409ZM521 1419H532V1430H521Z"/>
<path fill="#96c0f0" d="M229 1012H240V1023H229ZM510 1012H521V1023H510ZM611 1012H622V1023H611ZM532 1023H544V1033H532ZM600 1023H622V1033H600ZM678 1023H690V1033H678ZM409 1033H420V1044H409ZM566 1033H577V1044H566ZM420 1044H431V1055H420ZM420 1055H431V1066H420ZM735 1055H746V1066H735ZM634 1066H645V1076H634ZM656 1076H667V1087H656ZM712 1076H723V1087H712ZM712 1087H723V1098H712ZM240 1151H251V1162H240ZM757 1151H768V1162H757ZM218 1184H240V1194H218ZM757 1205H768V1216H757ZM768 1216H780V1226H768ZM218 1226H229V1237H218ZM229 1248H240V1259H229ZM768 1248H780V1259H768ZM768 1269H780V1280H768ZM251 1301H263V1312H251ZM757 1301H768V1312H757ZM274 1323H296V1334H274ZM701 1323H712V1334H701ZM251 1334H263V1344H251ZM319 1344H330V1355H319ZM274 1355H308V1366H274ZM723 1355H735V1366H723ZM330 1366H353V1377H330ZM611 1377H622V1387H611ZM656 1377H667V1387H656ZM364 1387H375V1398H364ZM386 1387H397V1398H386ZM431 1387H454V1398H431ZM476 1387H487V1398H476ZM510 1387H521V1398H510ZM532 1398H544V1409H532ZM499 1409H510V1419H499Z"/>
<path fill="#93bef1" d="M544 990H555V1001H544ZM465 1012H476V1023H465ZM690 1023H701V1033H690ZM229 1033H240V1044H229ZM229 1044H240V1055H229ZM251 1044H263V1055H251ZM566 1044H577V1055H566ZM577 1055H589V1066H577ZM735 1066H746V1076H735ZM667 1087H690V1098H667ZM746 1087H757V1098H746ZM218 1216H229V1226H218ZM251 1248H263V1259H251ZM229 1259H240V1269H229ZM768 1259H780V1269H768ZM229 1269H240V1280H229ZM251 1291H263V1301H251ZM285 1366H296V1377H285ZM308 1366H319V1377H308ZM723 1366H735V1377H723ZM510 1377H521V1387H510ZM319 1387H330V1398H319ZM420 1387H431V1398H420ZM487 1387H499V1398H487ZM532 1387H544V1398H532ZM353 1419H364V1430H353Z"/>
<path fill="#8fbdf1" d="M634 1012H645V1023H634ZM341 1055H353V1066H341ZM341 1066H353V1076H341ZM364 1066H375V1076H364ZM397 1066H409V1076H397ZM364 1076H375V1087H364ZM634 1076H656V1087H634ZM296 1108H308V1119H296ZM712 1151H723V1162H712ZM240 1162H251V1173H240ZM757 1162H768V1173H757ZM757 1173H768V1184H757ZM251 1194H263V1205H251ZM723 1194H735V1205H723ZM240 1248H251V1259H240ZM251 1259H263V1269H251ZM240 1280H251V1291H240ZM735 1334H746V1344H735ZM251 1344H263V1355H251ZM577 1344H589V1355H577ZM735 1344H746V1355H735ZM319 1355H341V1366H319ZM634 1355H645V1366H634ZM712 1366H723V1377H712ZM375 1377H386V1387H375ZM397 1377H409V1387H397ZM353 1387H364V1398H353ZM375 1398H386V1409H375ZM397 1398H409V1409H397ZM476 1398H499V1409H476ZM521 1398H532V1409H521ZM555 1398H566V1409H555ZM353 1409H364V1419H353Z"/>
<path fill="#8cbcf2" d="M622 1001H645V1012H622ZM510 1023H521V1033H510ZM555 1023H566V1033H555ZM611 1033H622V1044H611ZM645 1044H656V1055H645ZM622 1055H645V1066H622ZM353 1066H364V1076H353ZM375 1066H397V1076H375ZM409 1066H420V1076H409ZM319 1076H341V1087H319ZM386 1076H397V1087H386ZM622 1076H634V1087H622ZM319 1087H330V1098H319ZM420 1098H431V1108H420ZM690 1098H701V1108H690ZM746 1108H757V1119H746ZM285 1119H296V1130H285ZM285 1130H296V1141H285ZM251 1141H285V1151H251ZM723 1141H735V1151H723ZM757 1141H768V1151H757ZM251 1151H263V1162H251ZM746 1162H757V1173H746ZM263 1173H274V1184H263ZM757 1184H768V1194H757ZM229 1194H251V1205H229ZM735 1216H746V1226H735ZM757 1216H768V1226H757ZM757 1226H768V1237H757ZM229 1237H240V1248H229ZM251 1280H263V1291H251ZM757 1280H768V1291H757ZM240 1291H251V1301H240ZM263 1291H274V1301H263ZM240 1312H274V1323H240ZM712 1312H723V1323H712ZM735 1312H746V1323H735ZM263 1323H274V1334H263ZM263 1334H274V1344H263ZM723 1334H735V1344H723ZM263 1344H274V1355H263ZM296 1344H308V1355H296ZM589 1344H600V1355H589ZM723 1344H735V1355H723ZM746 1344H757V1355H746ZM442 1366H454V1377H442ZM611 1366H622V1377H611ZM634 1366H656V1377H634ZM701 1366H712V1377H701ZM330 1377H353V1387H330ZM521 1377H532V1387H521ZM397 1387H409V1398H397ZM499 1387H510V1398H499ZM521 1387H532V1398H521ZM600 1387H611V1398H600ZM386 1398H397V1409H386ZM409 1398H420V1409H409ZM589 1398H600V1409H589Z"/>
<path fill="#88bbf2" d="M487 1023H510V1033H487ZM521 1023H532V1033H521ZM544 1023H555V1033H544ZM251 1033H263V1044H251ZM600 1033H611V1044H600ZM577 1044H634V1055H577ZM589 1055H600V1066H589ZM353 1076H364V1087H353ZM375 1076H386V1087H375ZM409 1076H420V1087H409ZM364 1087H375V1098H364ZM308 1098H319V1108H308ZM701 1098H712V1108H701ZM746 1098H757V1108H746ZM274 1130H285V1141H274ZM263 1151H285V1162H263ZM251 1162H274V1173H251ZM251 1173H263V1184H251ZM274 1173H285V1184H274ZM263 1184H274V1194H263ZM263 1301H285V1312H263ZM723 1301H746V1312H723ZM701 1312H712V1323H701ZM723 1312H735V1323H723ZM296 1323H308V1334H296ZM723 1323H746V1334H723ZM341 1355H353V1366H341ZM442 1355H454V1366H442ZM555 1355H566V1366H555ZM645 1355H656V1366H645ZM678 1355H690V1366H678ZM701 1355H712V1366H701ZM622 1366H634V1377H622ZM353 1377H375V1387H353ZM409 1377H420V1387H409ZM431 1377H442V1387H431ZM532 1377H544V1387H532ZM409 1387H420V1398H409Z"/>
<path fill="#84b9f2" d="M499 1012H510V1023H499ZM532 1033H544V1044H532ZM577 1033H600V1044H577ZM712 1044H723V1055H712ZM555 1055H566V1066H555ZM420 1066H431V1076H420ZM341 1076H353V1087H341ZM397 1076H409V1087H397ZM420 1076H431V1087H420ZM375 1087H386V1098H375ZM600 1087H611V1098H600ZM622 1087H634V1098H622ZM589 1098H600V1108H589ZM296 1119H308V1130H296ZM757 1119H768V1130H757ZM296 1130H308V1141H296ZM723 1130H735V1141H723ZM757 1130H768V1141H757ZM746 1151H757V1162H746ZM274 1162H285V1173H274ZM274 1194H285V1205H274ZM240 1205H251V1216H240ZM757 1269H768V1280H757ZM274 1280H285V1291H274ZM746 1280H757V1291H746ZM274 1291H296V1301H274ZM723 1291H746V1301H723ZM757 1291H768V1301H757ZM746 1301H757V1312H746ZM667 1323H678V1334H667ZM712 1323H723V1334H712ZM712 1334H723V1344H712ZM667 1344H678V1355H667ZM589 1355H611V1366H589ZM622 1355H634V1366H622ZM690 1355H701V1366H690ZM566 1366H589V1377H566ZM656 1366H667V1377H656ZM690 1366H701V1377H690Z"/>
<path fill="#81b8f3" d="M487 1012H499V1023H487ZM645 1055H667V1066H645ZM431 1076H442V1087H431ZM589 1087H600V1098H589ZM442 1098H454V1108H442ZM712 1098H723V1108H712ZM285 1141H296V1151H285ZM735 1141H746V1151H735ZM735 1151H746V1162H735ZM690 1194H701V1205H690ZM746 1205H757V1216H746ZM263 1259H274V1269H263ZM251 1269H274V1280H251ZM712 1291H723V1301H712ZM240 1301H251V1312H240ZM330 1301H341V1312H330ZM566 1344H577V1355H566ZM645 1344H656V1355H645ZM431 1366H442V1377H431ZM555 1366H566V1377H555ZM600 1366H611V1377H600ZM678 1366H690V1377H678ZM476 1377H487V1387H476ZM375 1387H386V1398H375ZM544 1387H555V1398H544ZM420 1398H431V1409H420ZM465 1398H476V1409H465ZM577 1398H589V1409H577Z"/>
<path fill="#7db7f3" d="M634 1044H645V1055H634ZM566 1055H577V1066H566ZM622 1066H634V1076H622ZM589 1076H600V1087H589ZM746 1076H757V1087H746ZM431 1087H454V1098H431ZM656 1087H667V1098H656ZM678 1098H690V1108H678ZM735 1098H746V1108H735ZM735 1108H746V1119H735ZM735 1162H746V1173H735ZM251 1205H263V1216H251ZM712 1216H723V1226H712ZM274 1259H285V1269H274ZM296 1269H308V1280H296ZM263 1280H274V1291H263ZM296 1291H308V1301H296ZM319 1291H330V1301H319ZM712 1301H723V1312H712ZM690 1323H701V1334H690ZM285 1334H308V1344H285ZM634 1344H645V1355H634ZM577 1355H589V1366H577ZM420 1366H431V1377H420ZM544 1366H555V1377H544ZM465 1377H476V1387H465ZM544 1377H555V1387H544ZM544 1398H555V1409H544Z"/>
<path fill="#79b5f4" d="M476 1033H487V1044H476ZM510 1033H521V1044H510ZM611 1076H622V1087H611ZM735 1076H746V1087H735ZM353 1087H364V1098H353ZM600 1098H611V1108H600ZM723 1098H735V1108H723ZM555 1108H577V1119H555ZM690 1108H712V1119H690ZM274 1119H285V1130H274ZM308 1119H319V1130H308ZM555 1119H566V1130H555ZM308 1130H319V1141H308ZM712 1141H723V1151H712ZM285 1184H296V1194H285ZM746 1194H757V1205H746ZM274 1205H285V1216H274ZM746 1216H757V1226H746ZM757 1237H768V1248H757ZM757 1248H768V1259H757ZM274 1269H285V1280H274ZM274 1312H296V1323H274ZM274 1334H285V1344H274ZM656 1334H678V1344H656ZM330 1344H353V1355H330ZM353 1355H364V1366H353ZM712 1355H723V1366H712ZM532 1366H544V1377H532ZM589 1366H600V1377H589ZM667 1366H678V1377H667ZM386 1377H397V1387H386ZM420 1377H431V1387H420ZM499 1377H510V1387H499Z"/>
<path fill="#74b4f4" d="M499 1033H510V1044H499ZM476 1044H487V1055H476ZM600 1055H611V1066H600ZM577 1076H589V1087H577ZM600 1076H611V1087H600ZM723 1076H735V1087H723ZM330 1087H353V1098H330ZM386 1087H397V1098H386ZM420 1087H431V1098H420ZM566 1087H577V1098H566ZM611 1098H634V1108H611ZM600 1108H634V1119H600ZM622 1119H645V1130H622ZM735 1119H746V1130H735ZM555 1130H566V1141H555ZM712 1130H723V1141H712ZM566 1141H577V1151H566ZM442 1151H454V1162H442ZM285 1162H296V1173H285ZM611 1162H622V1173H611ZM735 1173H757V1184H735ZM274 1184H285V1194H274ZM296 1194H308V1205H296ZM723 1205H735V1216H723ZM308 1280H319V1291H308ZM701 1291H712V1301H701ZM701 1301H712V1312H701ZM296 1312H308V1323H296ZM667 1312H678V1323H667ZM690 1312H701V1323H690ZM251 1323H263V1334H251ZM319 1334H330V1344H319ZM645 1334H656V1344H645ZM678 1334H712V1344H678ZM555 1344H566V1355H555ZM353 1366H364V1377H353ZM442 1377H454V1387H442Z"/>
<path fill="#70b3f4" d="M555 1044H566V1055H555ZM746 1055H757V1066H746ZM611 1066H622V1076H611ZM566 1098H577V1108H566ZM577 1108H600V1119H577ZM634 1108H645V1119H634ZM712 1108H723V1119H712ZM645 1119H656V1130H645ZM701 1119H723V1130H701ZM735 1130H746V1141H735ZM723 1151H735V1162H723ZM285 1173H296V1184H285ZM712 1184H723V1194H712ZM746 1184H757V1194H746ZM735 1194H746V1205H735ZM712 1226H723V1237H712ZM757 1259H768V1269H757ZM678 1312H690V1323H678ZM308 1334H319V1344H308ZM656 1344H667V1355H656ZM690 1344H701V1355H690ZM656 1355H667V1366H656ZM521 1366H532V1377H521Z"/>
<path fill="#6cb2f5" d="M521 1033H532V1044H521ZM487 1044H521V1055H487ZM589 1066H600V1076H589ZM566 1076H577V1087H566ZM577 1087H589V1098H577ZM566 1119H577V1130H566ZM723 1119H735V1130H723ZM544 1130H555V1141H544ZM296 1141H308V1151H296ZM701 1141H712V1151H701ZM701 1151H712V1162H701ZM712 1162H735V1173H712ZM723 1184H735V1194H723ZM678 1194H690V1205H678ZM701 1194H712V1205H701ZM229 1205H240V1216H229ZM723 1280H735V1291H723ZM667 1291H678V1301H667ZM690 1301H701V1312H690ZM678 1323H690V1334H678ZM622 1344H634V1355H622ZM544 1355H555V1366H544ZM454 1377H465V1387H454Z"/>
<path fill="#67b0f5" d="M555 1033H566V1044H555ZM476 1055H487V1066H476ZM510 1055H521V1066H510ZM442 1076H454V1087H442ZM397 1087H409V1098H397ZM454 1087H465V1098H454ZM330 1098H341V1108H330ZM431 1098H442V1108H431ZM634 1098H645V1108H634ZM611 1119H622V1130H611ZM600 1130H611V1141H600ZM319 1151H330V1162H319ZM431 1151H442V1162H431ZM723 1173H735V1184H723ZM251 1184H263V1194H251ZM701 1184H712V1194H701ZM251 1216H263V1226H251ZM746 1237H757V1248H746ZM667 1301H678V1312H667ZM701 1344H723V1355H701ZM566 1355H577V1366H566ZM667 1355H678V1366H667ZM487 1377H499V1387H487Z"/>
<path fill="#62aff5" d="M487 1033H499V1044H487ZM487 1055H499V1066H487ZM611 1055H622V1066H611ZM566 1066H589V1076H566ZM600 1066H611V1076H600ZM555 1076H566V1087H555ZM532 1087H544V1098H532ZM341 1098H353V1108H341ZM319 1108H330V1119H319ZM532 1108H544V1119H532ZM645 1108H656V1119H645ZM678 1108H690V1119H678ZM566 1130H577V1141H566ZM645 1130H656V1141H645ZM645 1141H656V1151H645ZM285 1151H296V1162H285ZM386 1151H397V1162H386ZM645 1162H656V1173H645ZM735 1184H746V1194H735ZM712 1194H723V1205H712ZM229 1226H240V1237H229ZM723 1226H735V1237H723ZM746 1226H757V1237H746ZM274 1248H285V1259H274ZM690 1291H701V1301H690ZM296 1301H308V1312H296ZM678 1301H690V1312H678ZM330 1334H341V1344H330ZM678 1344H690V1355H678ZM566 1377H577V1387H566ZM566 1398H577V1409H566Z"/>
<path fill="#5daef6" d="M544 1033H555V1044H544ZM487 1076H499V1087H487ZM532 1076H544V1087H532ZM555 1087H566V1098H555ZM454 1098H465V1108H454ZM330 1108H341V1119H330ZM420 1108H442V1119H420ZM656 1108H678V1119H656ZM319 1119H330V1130H319ZM510 1119H521V1130H510ZM600 1119H611V1130H600ZM690 1119H701V1130H690ZM532 1130H544V1141H532ZM634 1141H645V1151H634ZM690 1151H701V1162H690ZM296 1173H308V1184H296ZM701 1173H712V1184H701ZM678 1184H690V1194H678ZM735 1226H746V1237H735ZM285 1259H296V1269H285ZM746 1269H757V1280H746ZM319 1301H330V1312H319ZM330 1312H341V1323H330ZM589 1334H600V1344H589Z"/>
<path fill="#58adf6" d="M510 1076H521V1087H510ZM409 1087H420V1098H409ZM611 1087H622V1098H611ZM555 1098H566V1108H555ZM308 1108H319V1119H308ZM510 1108H521V1119H510ZM532 1119H544V1130H532ZM634 1130H645V1141H634ZM667 1130H678V1141H667ZM611 1141H622V1151H611ZM690 1141H701V1151H690ZM701 1162H712V1173H701ZM712 1173H723V1184H712ZM690 1184H701V1194H690ZM735 1205H746V1216H735ZM341 1291H353V1301H341ZM364 1355H375V1366H364Z"/>
<path fill="#52abf6" d="M544 1076H555V1087H544ZM544 1087H555V1098H544ZM319 1098H330V1108H319ZM476 1098H487V1108H476ZM442 1108H454V1119H442ZM499 1108H510V1119H499ZM656 1119H667V1130H656ZM319 1130H330V1141H319ZM555 1141H566V1151H555ZM600 1141H611V1151H600ZM656 1141H690V1151H656ZM240 1226H251V1237H240ZM251 1237H263V1248H251ZM735 1237H746V1248H735ZM746 1248H757V1259H746ZM296 1259H308V1269H296ZM285 1269H296V1280H285ZM308 1291H319V1301H308ZM308 1301H319V1312H308ZM319 1312H330V1323H319ZM308 1323H319V1334H308ZM600 1334H611V1344H600Z"/>
<path fill="#4caaf7" d="M532 1055H544V1066H532ZM555 1066H566V1076H555ZM521 1076H532V1087H521ZM364 1098H375V1108H364ZM386 1098H397V1108H386ZM510 1098H544V1108H510ZM577 1098H589V1108H577ZM375 1108H386V1119H375ZM521 1119H532V1130H521ZM746 1141H757V1151H746ZM622 1151H634V1162H622ZM690 1162H701V1173H690ZM263 1194H274V1205H263ZM667 1194H678V1205H667ZM263 1216H274V1226H263ZM723 1216H735V1226H723ZM251 1226H263V1237H251ZM701 1226H712V1237H701ZM240 1237H251V1248H240ZM735 1269H746V1280H735ZM308 1312H319V1323H308ZM566 1312H589V1323H566ZM330 1323H341V1334H330ZM656 1323H667V1334H656ZM566 1334H589V1344H566ZM600 1344H611V1355H600ZM431 1355H442V1366H431ZM577 1377H589V1387H577Z"/>
<path fill="#46a9f7" d="M431 1033H442V1044H431ZM499 1055H510V1066H499ZM476 1066H487V1076H476ZM499 1076H510V1087H499ZM476 1087H487V1098H476ZM521 1087H532V1098H521ZM465 1108H487V1119H465ZM330 1119H341V1130H330ZM442 1119H454V1130H442ZM746 1119H757V1130H746ZM308 1141H319V1151H308ZM420 1141H431V1151H420ZM544 1141H555V1151H544ZM589 1141H600V1151H589ZM330 1151H341V1162H330ZM420 1151H431V1162H420ZM611 1151H622V1162H611ZM420 1162H431V1173H420ZM678 1173H701V1184H678ZM667 1205H678V1216H667ZM712 1205H723V1216H712ZM701 1216H712V1226H701ZM712 1237H723V1248H712ZM263 1248H274V1259H263ZM308 1269H319V1280H308ZM285 1280H296V1291H285ZM285 1301H296V1312H285ZM341 1323H353V1334H341ZM510 1334H521V1344H510ZM555 1334H566V1344H555ZM454 1344H465V1355H454ZM364 1366H375V1377H364ZM499 1366H510V1377H499ZM600 1377H611V1387H600ZM589 1387H600V1398H589Z"/>
<path fill="#3fa8f7" d="M465 1098H476V1108H465ZM499 1098H510V1108H499ZM364 1108H375V1119H364ZM386 1108H397V1119H386ZM521 1108H532V1119H521ZM375 1119H386V1130H375ZM409 1119H431V1130H409ZM544 1119H555V1130H544ZM667 1119H678V1130H667ZM420 1130H431V1141H420ZM442 1130H454V1141H442ZM589 1130H600V1141H589ZM622 1130H634V1141H622ZM532 1141H544V1151H532ZM431 1162H442V1173H431ZM622 1162H634V1173H622ZM678 1162H690V1173H678ZM634 1173H645V1184H634ZM308 1184H319V1194H308ZM330 1184H341V1194H330ZM285 1194H296V1205H285ZM308 1194H319V1205H308ZM263 1205H274V1216H263ZM723 1237H735V1248H723ZM678 1248H690V1259H678ZM735 1248H746V1259H735ZM319 1280H330V1291H319ZM678 1291H690V1301H678ZM353 1301H364V1312H353ZM341 1312H364V1323H341ZM364 1323H375V1334H364ZM341 1334H353V1344H341ZM431 1334H442V1344H431ZM353 1344H364V1355H353ZM521 1344H532V1355H521ZM611 1355H622V1366H611ZM577 1387H589V1398H577Z"/>
<path fill="#36a6f7" d="M521 1044H532V1055H521ZM544 1044H555V1055H544ZM521 1055H532V1066H521ZM431 1066H442V1076H431ZM532 1066H544V1076H532ZM465 1076H476V1087H465ZM510 1087H521V1098H510ZM375 1098H386V1108H375ZM409 1098H420V1108H409ZM409 1108H420V1119H409ZM487 1108H499V1119H487ZM454 1119H465V1130H454ZM375 1130H386V1141H375ZM510 1130H521V1141H510ZM375 1141H397V1151H375ZM442 1141H454V1151H442ZM577 1141H589V1151H577ZM397 1151H420V1162H397ZM319 1162H341V1173H319ZM442 1162H454V1173H442ZM634 1162H645V1173H634ZM341 1173H353V1184H341ZM296 1184H308V1194H296ZM285 1205H296V1216H285ZM701 1205H712V1216H701ZM274 1216H285V1226H274ZM667 1216H701V1226H667ZM263 1226H274V1237H263ZM263 1237H274V1248H263ZM690 1237H701V1248H690ZM712 1269H723V1280H712ZM296 1280H308V1291H296ZM712 1280H723V1291H712ZM735 1280H746V1291H735ZM341 1301H353V1312H341ZM656 1312H667V1323H656ZM532 1334H544V1344H532ZM375 1366H386V1377H375ZM487 1366H499V1377H487ZM510 1366H521V1377H510Z"/>
<path fill="#33a5f6" d="M431 1044H442V1055H431ZM532 1044H544V1055H532ZM544 1055H555V1066H544ZM544 1066H555V1076H544ZM465 1087H476V1098H465ZM544 1108H555V1119H544ZM341 1119H353V1130H341ZM431 1119H442V1130H431ZM487 1119H499V1130H487ZM678 1119H690V1130H678ZM499 1130H510V1141H499ZM521 1130H532V1141H521ZM656 1130H667V1141H656ZM454 1141H476V1151H454ZM521 1141H532V1151H521ZM375 1151H386V1162H375ZM645 1151H656V1162H645ZM566 1162H589V1173H566ZM600 1162H611V1173H600ZM319 1173H330V1184H319ZM645 1173H656V1184H645ZM409 1184H420V1194H409ZM656 1194H667V1205H656ZM656 1205H667V1216H656ZM690 1205H701V1216H690ZM240 1216H251V1226H240ZM656 1216H667V1226H656ZM735 1259H746V1269H735ZM319 1269H330V1280H319ZM690 1269H701V1280H690ZM330 1291H341V1301H330ZM431 1312H442V1323H431ZM431 1323H442V1334H431ZM577 1323H589V1334H577ZM476 1334H487V1344H476ZM532 1344H544V1355H532ZM611 1344H622V1355H611ZM510 1355H521V1366H510ZM476 1366H487V1377H476Z"/>
<path fill="#32a4f4" d="M465 1044H476V1055H465ZM431 1055H442V1066H431ZM341 1108H353V1119H341ZM386 1119H397V1130H386ZM431 1130H442V1141H431ZM319 1141H330V1151H319ZM409 1141H420V1151H409ZM431 1141H442V1151H431ZM622 1141H634V1151H622ZM634 1151H645V1162H634ZM656 1151H667V1162H656ZM386 1162H397V1173H386ZM589 1162H600V1173H589ZM330 1173H341V1184H330ZM409 1173H420V1184H409ZM611 1173H622V1184H611ZM319 1184H330V1194H319ZM656 1184H667V1194H656ZM409 1194H420V1205H409ZM678 1205H690V1216H678ZM701 1237H712V1248H701ZM285 1248H296V1259H285ZM723 1248H735V1259H723ZM678 1259H690V1269H678ZM353 1291H364V1301H353ZM431 1301H442V1312H431ZM656 1301H667V1312H656ZM566 1323H577V1334H566ZM589 1323H600V1334H589ZM353 1334H364V1344H353ZM487 1334H499V1344H487ZM465 1344H476V1355H465ZM544 1344H555V1355H544ZM454 1355H476V1366H454ZM521 1355H532V1366H521ZM409 1366H420V1377H409ZM555 1387H566V1398H555Z"/>
<path fill="#30a2f2" d="M454 1076H465V1087H454ZM364 1119H375V1130H364ZM465 1119H476V1130H465ZM454 1130H465V1141H454ZM330 1141H341V1151H330ZM510 1151H521V1162H510ZM667 1151H678V1162H667ZM375 1162H386V1173H375ZM397 1162H420V1173H397ZM454 1162H465V1173H454ZM622 1173H634V1184H622ZM341 1184H353V1194H341ZM667 1184H678V1194H667ZM330 1194H341V1205H330ZM296 1205H308V1216H296ZM667 1226H678V1237H667ZM690 1226H701V1237H690ZM285 1237H296V1248H285ZM678 1237H690V1248H678ZM341 1269H353V1280H341ZM375 1291H386V1301H375ZM364 1301H375V1312H364ZM364 1312H375V1323H364ZM420 1312H431V1323H420ZM397 1334H431V1344H397ZM442 1334H454V1344H442ZM442 1344H454V1355H442ZM487 1344H499V1355H487Z"/>
<path fill="#2fa1f0" d="M465 1066H476V1076H465ZM499 1087H510V1098H499ZM397 1119H409V1130H397ZM364 1130H375V1141H364ZM409 1130H420V1141H409ZM510 1141H521V1151H510ZM454 1151H465V1162H454ZM476 1151H487V1162H476ZM364 1173H375V1184H364ZM386 1184H397V1194H386ZM319 1194H330V1205H319ZM397 1194H409V1205H397ZM319 1205H330V1216H319ZM690 1248H701V1259H690ZM375 1269H386V1280H375ZM510 1301H521V1312H510ZM555 1312H566V1323H555ZM375 1323H386V1334H375ZM364 1334H375V1344H364ZM454 1334H465V1344H454Z"/>
<path fill="#2e9fee" d="M476 1119H487V1130H476ZM364 1141H375V1151H364ZM487 1151H499V1162H487ZM465 1162H476V1173H465ZM375 1173H386V1184H375ZM420 1173H431V1184H420ZM274 1237H285V1248H274ZM667 1237H678V1248H667ZM712 1248H723V1259H712ZM656 1291H667V1301H656ZM375 1301H386V1312H375ZM409 1323H420V1334H409ZM375 1334H386V1344H375ZM465 1334H476V1344H465ZM510 1344H521V1355H510ZM476 1355H487V1366H476Z"/>
<path fill="#2d9eec" d="M622 1012H634V1023H622ZM465 1055H476V1066H465ZM353 1098H364V1108H353ZM667 1098H678V1108H667ZM476 1141H487V1151H476ZM420 1184H431V1194H420ZM454 1184H465V1194H454ZM667 1248H678V1259H667ZM364 1291H375V1301H364ZM319 1323H330V1334H319ZM611 1334H622V1344H611Z"/>
<path fill="#2c9cea" d="M476 1162H487V1173H476ZM454 1226H465V1237H454ZM746 1259H757V1269H746ZM746 1291H757V1301H746ZM420 1301H431V1312H420ZM521 1323H532V1334H521Z"/>
<path fill="#2b9be8" d="M487 1066H499V1076H487ZM521 1066H532V1076H521ZM735 1087H746V1098H735ZM656 1098H667V1108H656ZM589 1119H600V1130H589ZM555 1162H566V1173H555ZM386 1291H397V1301H386ZM442 1301H454V1312H442ZM499 1301H510V1312H499ZM645 1312H656V1323H645ZM386 1334H397V1344H386ZM532 1355H544V1366H532Z"/>
<path fill="#2b99e6" d="M454 1023H465V1033H454ZM723 1087H735V1098H723ZM487 1098H499V1108H487ZM645 1098H656V1108H645ZM723 1108H735V1119H723ZM296 1162H308V1173H296ZM510 1162H521V1173H510ZM544 1162H555V1173H544ZM308 1173H319V1184H308ZM386 1173H397V1184H386ZM442 1184H454V1194H442ZM645 1184H656V1194H645ZM678 1280H690V1291H678ZM544 1312H555V1323H544Z"/>
<path fill="#2a98e4" d="M397 1108H409V1119H397ZM330 1130H341V1141H330ZM465 1130H476V1141H465ZM690 1130H701V1141H690ZM296 1151H319V1162H296ZM521 1151H532V1162H521ZM600 1151H611V1162H600ZM353 1184H364V1194H353ZM229 1216H240V1226H229ZM701 1259H712V1269H701ZM690 1280H712V1291H690ZM442 1312H454V1323H442ZM510 1323H521V1334H510Z"/>
<path fill="#2a97e2" d="M499 1066H510V1076H499ZM645 1087H656V1098H645ZM308 1162H319V1173H308ZM397 1173H409V1184H397ZM600 1173H611V1184H600ZM622 1184H634V1194H622ZM285 1216H296V1226H285ZM690 1259H701V1269H690ZM330 1269H341V1280H330ZM330 1280H341V1291H330ZM476 1291H487V1301H476ZM420 1323H431V1334H420Z"/>
<path fill="#2a95e0" d="M442 1023H454V1033H442ZM465 1033H476V1044H465ZM397 1098H409V1108H397ZM544 1098H555V1108H544ZM397 1130H409V1141H397ZM701 1130H712V1141H701ZM577 1151H589V1162H577ZM353 1173H364V1184H353ZM341 1194H353V1205H341ZM678 1226H690V1237H678ZM701 1248H712V1259H701ZM308 1259H319V1269H308ZM353 1269H364V1280H353ZM723 1269H735V1280H723ZM442 1323H454V1334H442ZM465 1323H510V1334H465ZM499 1334H510V1344H499ZM521 1334H532V1344H521ZM487 1355H499V1366H487Z"/>
<path fill="#2a94de" d="M510 1066H521V1076H510ZM454 1108H465V1119H454ZM353 1119H364V1130H353ZM577 1119H589V1130H577ZM353 1130H364V1141H353ZM487 1130H499V1141H487ZM566 1151H577V1162H566ZM341 1162H353V1173H341ZM600 1184H611V1194H600ZM375 1194H386V1205H375ZM645 1216H656V1226H645ZM364 1259H375V1269H364ZM723 1259H735V1269H723ZM364 1269H375V1280H364ZM386 1269H397V1280H386ZM454 1323H465V1334H454ZM645 1323H656V1334H645Z"/>
<path fill="#2a92db" d="M353 1108H364V1119H353ZM678 1130H690V1141H678ZM656 1162H667V1173H656ZM566 1173H577V1184H566ZM656 1173H667V1184H656ZM364 1184H375V1194H364ZM431 1184H442V1194H431ZM634 1184H645V1194H634ZM634 1194H645V1205H634ZM634 1237H645V1248H634ZM341 1280H353V1291H341ZM386 1280H397V1291H386ZM487 1312H499V1323H487ZM532 1312H544V1323H532ZM555 1323H566V1334H555ZM499 1344H510V1355H499Z"/>
<path fill="#2a91d9" d="M386 1130H397V1141H386ZM341 1141H353V1151H341ZM364 1162H375V1173H364ZM667 1162H678V1173H667ZM667 1173H678V1184H667ZM577 1184H589V1194H577ZM532 1194H544V1205H532ZM600 1194H611V1205H600ZM386 1205H397V1216H386ZM645 1205H656V1216H645ZM442 1237H454V1248H442ZM296 1248H308V1259H296ZM353 1259H364V1269H353ZM420 1269H431V1280H420ZM701 1269H712V1280H701ZM431 1280H442V1291H431ZM566 1280H589V1291H566ZM600 1323H611V1334H600ZM544 1334H555V1344H544Z"/>
<path fill="#2a8fd7" d="M476 1130H487V1141H476ZM364 1151H375V1162H364ZM544 1151H555V1162H544ZM353 1162H364V1173H353ZM577 1173H589V1184H577ZM397 1184H409V1194H397ZM555 1184H566V1194H555ZM611 1184H622V1194H611ZM364 1194H375V1205H364ZM645 1194H656V1205H645ZM296 1216H308V1226H296ZM521 1237H532V1248H521ZM712 1259H723V1269H712ZM678 1269H690V1280H678ZM555 1280H566V1291H555ZM589 1280H600V1291H589ZM667 1280H678V1291H667ZM589 1291H600V1301H589ZM555 1301H566V1312H555ZM375 1312H386V1323H375ZM476 1312H487V1323H476ZM510 1312H532V1323H510ZM397 1366H409V1377H397Z"/>
<path fill="#2b8ed5" d="M532 1151H544V1162H532ZM532 1184H544V1194H532ZM566 1226H577V1237H566ZM364 1248H375V1259H364ZM667 1259H678V1269H667ZM353 1280H364V1291H353ZM442 1280H454V1291H442ZM521 1291H532V1301H521ZM611 1291H622V1301H611ZM577 1301H589V1312H577ZM544 1323H555V1334H544Z"/>
<path fill="#2b8dd2" d="M521 1162H532V1173H521ZM589 1173H600V1184H589ZM375 1184H386V1194H375ZM622 1194H634V1205H622ZM364 1205H375V1216H364ZM634 1226H645V1237H634ZM341 1259H353V1269H341ZM667 1269H678V1280H667ZM397 1280H409V1291H397ZM600 1280H611V1291H600ZM622 1280H634V1291H622ZM656 1280H667V1291H656ZM566 1291H577V1301H566ZM465 1312H476V1323H465ZM386 1323H397V1334H386Z"/>
<path fill="#2c8bd0" d="M341 1151H353V1162H341ZM487 1162H499V1173H487ZM532 1162H544V1173H532ZM476 1184H487V1194H476ZM589 1184H600V1194H589ZM353 1194H364V1205H353ZM510 1226H521V1237H510ZM622 1226H634V1237H622ZM454 1312H465V1323H454ZM589 1312H600V1323H589ZM386 1366H397V1377H386Z"/>
<path fill="#2c8ace" d="M566 1184H577V1194H566ZM544 1194H555V1205H544ZM544 1205H566V1216H544ZM465 1226H476V1237H465ZM577 1226H589V1237H577ZM364 1280H375V1291H364ZM510 1291H521V1301H510ZM600 1291H611V1301H600ZM566 1301H577V1312H566ZM409 1312H420V1323H409Z"/>
<path fill="#2d88cb" d="M353 1141H364V1151H353ZM499 1141H510V1151H499ZM465 1184H476V1194H465ZM544 1184H555V1194H544ZM645 1226H656V1237H645ZM296 1237H308V1248H296ZM645 1237H656V1248H645ZM634 1248H645V1259H634ZM600 1269H622V1280H600ZM656 1269H667V1280H656ZM611 1280H622V1291H611ZM577 1291H589V1301H577ZM600 1312H611V1323H600ZM375 1344H386V1355H375ZM566 1387H577V1398H566Z"/>
<path fill="#2d87c9" d="M487 1087H499V1098H487ZM431 1173H442V1184H431ZM555 1173H566V1184H555ZM521 1194H532V1205H521ZM611 1194H622V1205H611ZM308 1205H319V1216H308ZM544 1216H566V1226H544ZM656 1226H667V1237H656ZM622 1237H634V1248H622ZM589 1269H600V1280H589ZM375 1280H386V1291H375ZM409 1280H420V1291H409ZM600 1301H611V1312H600ZM420 1355H431V1366H420Z"/>
<path fill="#2e85c6" d="M442 1194H454V1205H442ZM521 1248H532V1259H521ZM397 1269H409V1280H397ZM577 1269H589V1280H577ZM487 1301H499V1312H487ZM409 1344H420V1355H409ZM375 1355H386V1366H375ZM454 1366H465V1377H454Z"/>
<path fill="#2f84c4" d="M499 1151H510V1162H499ZM532 1205H544V1216H532ZM431 1226H442V1237H431ZM555 1226H566V1237H555ZM589 1226H600V1237H589ZM510 1237H521V1248H510ZM409 1269H420V1280H409ZM431 1269H442V1280H431ZM622 1269H634V1280H622ZM397 1291H409V1301H397ZM431 1291H442V1301H431ZM409 1301H420V1312H409ZM420 1344H431V1355H420Z"/>
<path fill="#2f82c2" d="M577 1130H589V1141H577ZM487 1141H499V1151H487ZM589 1151H600V1162H589ZM442 1173H454V1184H442ZM566 1194H577V1205H566ZM375 1205H386V1216H375ZM634 1216H645V1226H634ZM600 1259H611V1269H600ZM487 1291H499V1301H487Z"/>
<path fill="#3081bf" d="M678 1151H690V1162H678ZM274 1226H285V1237H274ZM386 1237H397V1248H386ZM577 1237H589V1248H577ZM420 1259H431V1269H420ZM555 1291H566V1301H555Z"/>
<path fill="#3180bd" d="M476 1076H487V1087H476ZM499 1119H510V1130H499ZM510 1173H532V1184H510ZM431 1194H442V1205H431ZM622 1216H634V1226H622ZM600 1226H611V1237H600ZM308 1248H319V1259H308ZM566 1248H577V1259H566ZM622 1248H634V1259H622ZM465 1291H476V1301H465ZM454 1301H465V1312H454ZM364 1344H375V1355H364ZM431 1344H442V1355H431Z"/>
<path fill="#327eba" d="M454 1173H465V1184H454ZM386 1194H397V1205H386ZM555 1194H566V1205H555ZM589 1194H600V1205H589ZM600 1205H611V1216H600ZM364 1216H375V1226H364ZM611 1216H622V1226H611ZM285 1226H296V1237H285ZM353 1226H364V1237H353ZM409 1226H420V1237H409ZM611 1226H622V1237H611ZM364 1237H375V1248H364ZM454 1248H465V1259H454ZM600 1248H611V1259H600ZM442 1291H454V1301H442ZM499 1291H510V1301H499ZM476 1301H487V1312H476ZM397 1323H409V1334H397ZM386 1344H397V1355H386Z"/>
<path fill="#327db8" d="M634 1087H645V1098H634ZM341 1130H353V1141H341ZM397 1141H409V1151H397ZM555 1151H566V1162H555ZM532 1173H544V1184H532ZM420 1194H431V1205H420ZM510 1194H521V1205H510ZM353 1205H364V1216H353ZM589 1205H600V1216H589ZM330 1216H341V1226H330ZM353 1216H364V1226H353ZM375 1216H397V1226H375ZM364 1226H375V1237H364ZM420 1237H431V1248H420ZM555 1237H566V1248H555ZM386 1248H397V1259H386ZM409 1259H420V1269H409ZM634 1259H645V1269H634ZM409 1291H420V1301H409ZM353 1323H364V1334H353ZM499 1355H510V1366H499ZM555 1377H566V1387H555Z"/>
<path fill="#337bb5" d="M611 1130H622V1141H611ZM353 1151H364V1162H353ZM499 1162H510V1173H499ZM566 1205H589V1216H566ZM319 1216H330V1226H319ZM341 1216H353V1226H341ZM397 1216H409V1226H397ZM454 1237H465V1248H454ZM353 1248H364V1259H353ZM532 1248H544V1259H532ZM645 1248H656V1259H645ZM454 1280H465V1291H454ZM499 1312H510V1323H499ZM532 1323H544V1334H532ZM476 1344H487V1355H476ZM465 1366H476V1377H465Z"/>
<path fill="#347ab3" d="M746 1130H757V1141H746ZM544 1173H555V1184H544ZM330 1205H353V1216H330ZM442 1205H454V1216H442ZM634 1205H645V1216H634ZM375 1226H386V1237H375ZM420 1226H431V1237H420ZM397 1237H409V1248H397ZM532 1237H544V1248H532ZM589 1237H600V1248H589ZM442 1248H454V1259H442ZM397 1259H409V1269H397ZM566 1259H577V1269H566ZM622 1259H634V1269H622ZM510 1280H521V1291H510ZM521 1301H532V1312H521ZM611 1323H622V1334H611ZM622 1334H645V1344H622ZM409 1355H420V1366H409Z"/>
<path fill="#3578b0" d="M465 1173H476V1184H465ZM409 1205H420V1216H409ZM409 1216H420V1226H409ZM375 1237H386V1248H375ZM566 1237H577V1248H566ZM330 1259H341V1269H330ZM375 1259H397V1269H375ZM521 1259H532V1269H521ZM521 1280H532V1291H521ZM645 1280H656V1291H645ZM420 1291H431V1301H420Z"/>
<path fill="#3577ad" d="M454 1194H465V1205H454ZM577 1194H589V1205H577ZM397 1205H409V1216H397ZM420 1205H442V1216H420ZM532 1226H544V1237H532ZM341 1237H353V1248H341ZM431 1237H442V1248H431ZM375 1248H386V1259H375ZM409 1248H420V1259H409ZM555 1248H566V1259H555ZM566 1269H577V1280H566ZM465 1280H476V1291H465ZM397 1301H409V1312H397ZM465 1301H476V1312H465Z"/>
<path fill="#3676ab" d="M454 1216H465V1226H454ZM566 1216H577V1226H566ZM386 1226H397V1237H386ZM442 1226H454V1237H442ZM476 1226H487V1237H476ZM544 1226H555V1237H544ZM319 1259H330V1269H319ZM454 1291H465V1301H454ZM544 1301H555V1312H544ZM645 1301H656V1312H645Z"/>
<path fill="#3774a8" d="M521 1184H532V1194H521ZM532 1216H544V1226H532ZM555 1259H566V1269H555ZM656 1259H667V1269H656ZM555 1269H566V1280H555Z"/>
<path fill="#3773a6" d="M476 1216H487V1226H476ZM577 1216H589V1226H577ZM296 1226H308V1237H296ZM397 1226H409V1237H397ZM409 1237H420V1248H409ZM431 1248H442V1259H431ZM577 1248H589V1259H577ZM431 1259H442V1269H431ZM442 1269H454V1280H442ZM645 1269H656V1280H645ZM532 1280H544V1291H532Z"/>
<path fill="#3871a3" d="M487 1194H499V1205H487ZM510 1216H532V1226H510ZM544 1237H555V1248H544ZM341 1248H353V1259H341ZM397 1248H409V1259H397ZM476 1280H487V1291H476Z"/>
<path fill="#3870a1" d="M499 1216H510V1226H499ZM600 1237H611V1248H600ZM465 1248H476V1259H465ZM544 1269H555V1280H544ZM544 1291H555V1301H544Z"/>
<path fill="#396e9e" d="M476 1194H487V1205H476ZM476 1205H487V1216H476ZM487 1226H499V1237H487ZM532 1269H544V1280H532ZM634 1312H645V1323H634Z"/>
<path fill="#3a6d9c" d="M454 1269H465V1280H454Z"/>
<path fill="#3b6994" d="M330 1237H341V1248H330ZM487 1248H499V1259H487Z"/>
<path fill="#3d5a78" d="M442 1033H465V1044H442ZM442 1044H465V1055H442ZM442 1055H465V1066H442ZM442 1066H465V1076H442ZM465 1151H476V1162H465ZM476 1173H510V1184H476ZM487 1184H521V1194H487ZM465 1194H476V1205H465ZM499 1194H510V1205H499ZM454 1205H476V1216H454ZM487 1205H532V1216H487ZM611 1205H634V1216H611ZM308 1216H319V1226H308ZM420 1216H454V1226H420ZM465 1216H476V1226H465ZM487 1216H499V1226H487ZM589 1216H611V1226H589ZM308 1226H353V1237H308ZM499 1226H510V1237H499ZM521 1226H532V1237H521ZM308 1237H330V1248H308ZM353 1237H364V1248H353ZM465 1237H510V1248H465ZM611 1237H622V1248H611ZM656 1237H667V1248H656ZM319 1248H341V1259H319ZM420 1248H431V1259H420ZM476 1248H487V1259H476ZM499 1248H521V1259H499ZM544 1248H555V1259H544ZM589 1248H600V1259H589ZM611 1248H622V1259H611ZM656 1248H667V1259H656ZM442 1259H499V1269H442ZM510 1259H521V1269H510ZM532 1259H555V1269H532ZM577 1259H600V1269H577ZM611 1259H622V1269H611ZM645 1259H656V1269H645ZM465 1269H487V1280H465ZM510 1269H532V1280H510ZM634 1269H645V1280H634ZM420 1280H431V1291H420ZM487 1280H510V1291H487ZM544 1280H555V1291H544ZM634 1280H645V1291H634ZM532 1291H544V1301H532ZM622 1291H656V1301H622ZM386 1301H397V1312H386ZM532 1301H544V1312H532ZM589 1301H600V1312H589ZM611 1301H645V1312H611ZM386 1312H409V1323H386ZM611 1312H634V1323H611ZM622 1323H645V1334H622ZM285 1344H296V1355H285ZM397 1344H409V1355H397ZM386 1355H409V1366H386ZM589 1377H600V1387H589Z"/>
<path fill="#3d5875" d="M499 1259H510V1269H499ZM487 1269H510V1280H487Z"/></g>
<g shape-rendering="crispEdges"><path fill="#a9c8ee" d="M1101 915H1112V926H1101ZM1146 915H1168V926H1146ZM1190 915H1269V926H1190ZM1280 915H1539V926H1280ZM1168 926H1179V937H1168ZM1190 926H1202V937H1190ZM1224 926H1258V937H1224ZM1280 926H1292V937H1280ZM1303 926H1404V937H1303ZM1427 926H1539V937H1427ZM1168 937H1202V948H1168ZM1224 937H1269V948H1224ZM1280 937H1292V948H1280ZM1314 937H1382V948H1314ZM1393 937H1415V948H1393ZM1427 937H1539V948H1427ZM1134 948H1157V958H1134ZM1168 948H1235V958H1168ZM1258 948H1269V958H1258ZM1280 948H1539V958H1280ZM1011 958H1022V969H1011ZM1089 958H1101V969H1089ZM1112 958H1123V969H1112ZM1146 958H1157V969H1146ZM1179 958H1269V969H1179ZM1280 958H1303V969H1280ZM1314 958H1370V969H1314ZM1382 958H1483V969H1382ZM1494 958H1539V969H1494ZM1067 969H1078V980H1067ZM1089 969H1112V980H1089ZM1134 969H1224V980H1134ZM1235 969H1337V980H1235ZM1359 969H1415V980H1359ZM1427 969H1539V980H1427ZM1067 980H1078V990H1067ZM1089 980H1101V990H1089ZM1112 980H1134V990H1112ZM1146 980H1168V990H1146ZM1179 980H1247V990H1179ZM1269 980H1337V990H1269ZM1348 980H1415V990H1348ZM1438 980H1449V990H1438ZM1460 980H1494V990H1460ZM1505 980H1539V990H1505ZM1112 990H1123V1001H1112ZM1134 990H1235V1001H1134ZM1258 990H1292V1001H1258ZM1314 990H1427V1001H1314ZM1438 990H1449V1001H1438ZM1460 990H1471V1001H1460ZM1483 990H1505V1001H1483ZM1516 990H1539V1001H1516ZM1044 1001H1056V1012H1044ZM1089 1001H1101V1012H1089ZM1134 1001H1235V1012H1134ZM1247 1001H1258V1012H1247ZM1269 1001H1292V1012H1269ZM1303 1001H1393V1012H1303ZM1404 1001H1438V1012H1404ZM1460 1001H1539V1012H1460ZM1044 1012H1056V1023H1044ZM1078 1012H1089V1023H1078ZM1112 1012H1134V1023H1112ZM1146 1012H1235V1023H1146ZM1247 1012H1258V1023H1247ZM1269 1012H1314V1023H1269ZM1325 1012H1382V1023H1325ZM1393 1012H1427V1023H1393ZM1438 1012H1449V1023H1438ZM1460 1012H1539V1023H1460ZM1044 1023H1056V1033H1044ZM1089 1023H1168V1033H1089ZM1179 1023H1247V1033H1179ZM1258 1023H1382V1033H1258ZM1393 1023H1404V1033H1393ZM1415 1023H1449V1033H1415ZM1460 1023H1539V1033H1460ZM1078 1033H1101V1044H1078ZM1112 1033H1179V1044H1112ZM1190 1033H1438V1044H1190ZM1460 1033H1471V1044H1460ZM1494 1033H1505V1044H1494ZM1528 1033H1539V1044H1528ZM1067 1044H1078V1055H1067ZM1101 1044H1348V1055H1101ZM1370 1044H1382V1055H1370ZM1393 1044H1483V1055H1393ZM1494 1044H1539V1055H1494ZM1044 1055H1056V1066H1044ZM1089 1055H1101V1066H1089ZM1112 1055H1303V1066H1112ZM1314 1055H1337V1066H1314ZM1348 1055H1404V1066H1348ZM1415 1055H1449V1066H1415ZM1460 1055H1516V1066H1460ZM1528 1055H1539V1066H1528ZM1033 1066H1044V1076H1033ZM1056 1066H1067V1076H1056ZM1078 1066H1505V1076H1078ZM1516 1066H1539V1076H1516ZM1022 1076H1033V1087H1022ZM1067 1076H1089V1087H1067ZM1101 1076H1471V1087H1101ZM1483 1076H1494V1087H1483ZM1505 1076H1539V1087H1505ZM1056 1087H1348V1098H1056ZM1359 1087H1516V1098H1359ZM1528 1087H1539V1098H1528ZM1044 1098H1382V1108H1044ZM1393 1098H1539V1108H1393ZM1011 1108H1022V1119H1011ZM1044 1108H1157V1119H1044ZM1168 1108H1460V1119H1168ZM1471 1108H1505V1119H1471ZM1516 1108H1539V1119H1516ZM999 1119H1022V1130H999ZM1056 1119H1067V1130H1056ZM1078 1119H1539V1130H1078ZM1044 1130H1370V1141H1044ZM1382 1130H1539V1141H1382ZM1011 1141H1494V1151H1011ZM1505 1141H1539V1151H1505ZM1011 1151H1494V1162H1011ZM1505 1151H1539V1162H1505ZM1033 1162H1516V1173H1033ZM1528 1162H1539V1173H1528ZM1011 1173H1505V1184H1011ZM1516 1173H1539V1184H1516ZM1022 1184H1483V1194H1022ZM1494 1184H1505V1194H1494ZM1516 1184H1539V1194H1516ZM999 1194H1011V1205H999ZM1022 1194H1449V1205H1022ZM1460 1194H1471V1205H1460ZM1483 1194H1539V1205H1483ZM999 1205H1022V1216H999ZM1033 1205H1415V1216H1033ZM1427 1205H1471V1216H1427ZM1483 1205H1505V1216H1483ZM1528 1205H1539V1216H1528ZM999 1216H1460V1226H999ZM1494 1216H1516V1226H1494ZM999 1226H1438V1237H999ZM1449 1226H1460V1237H1449ZM1483 1226H1516V1237H1483ZM988 1237H1427V1248H988ZM1438 1237H1516V1248H1438ZM1011 1248H1404V1259H1011ZM1427 1248H1460V1259H1427ZM1483 1248H1494V1259H1483ZM1505 1248H1516V1259H1505ZM999 1259H1471V1269H999ZM1494 1259H1505V1269H1494ZM1528 1259H1539V1269H1528ZM988 1269H1427V1280H988ZM1438 1269H1483V1280H1438ZM1056 1280H1325V1291H1056ZM1337 1280H1427V1291H1337ZM1449 1280H1460V1291H1449ZM1471 1280H1483V1291H1471ZM1494 1280H1516V1291H1494ZM1078 1291H1348V1301H1078ZM1359 1291H1393V1301H1359ZM1404 1291H1427V1301H1404ZM1449 1291H1460V1301H1449ZM1516 1291H1539V1301H1516ZM1078 1301H1348V1312H1078ZM1359 1301H1415V1312H1359ZM1427 1301H1449V1312H1427ZM1494 1301H1505V1312H1494ZM1516 1301H1528V1312H1516ZM1089 1312H1337V1323H1089ZM1348 1312H1415V1323H1348ZM1427 1312H1438V1323H1427ZM1483 1312H1494V1323H1483ZM1528 1312H1539V1323H1528ZM1089 1323H1325V1334H1089ZM1337 1323H1415V1334H1337ZM1438 1323H1449V1334H1438ZM1460 1323H1471V1334H1460ZM1101 1334H1292V1344H1101ZM1303 1334H1415V1344H1303ZM1427 1334H1438V1344H1427ZM1101 1344H1269V1355H1101ZM1280 1344H1325V1355H1280ZM1337 1344H1359V1355H1337ZM1370 1344H1382V1355H1370ZM1404 1344H1415V1355H1404ZM1528 1344H1539V1355H1528ZM1101 1355H1235V1366H1101ZM1247 1355H1292V1366H1247ZM1303 1355H1314V1366H1303ZM1325 1355H1348V1366H1325ZM1359 1355H1370V1366H1359ZM1382 1355H1393V1366H1382ZM1404 1355H1415V1366H1404ZM1101 1366H1224V1377H1101ZM1235 1366H1269V1377H1235ZM1280 1366H1292V1377H1280ZM1303 1366H1314V1377H1303ZM1337 1366H1359V1377H1337ZM1382 1366H1393V1377H1382ZM1101 1377H1168V1387H1101ZM1179 1377H1190V1387H1179ZM1202 1377H1235V1387H1202ZM1247 1377H1269V1387H1247ZM1292 1377H1303V1387H1292ZM1348 1377H1359V1387H1348ZM1438 1377H1449V1387H1438ZM1101 1387H1190V1398H1101ZM1247 1387H1258V1398H1247ZM1314 1387H1325V1398H1314ZM1101 1398H1190V1409H1101ZM1101 1409H1157V1419H1101ZM1168 1409H1179V1419H1168ZM1134 1419H1146V1430H1134ZM1101 1430H1123V1441H1101ZM1190 1430H1202V1441H1190Z"/>
<path fill="#a6c6ef" d="M988 1280H1056V1291H988ZM988 1291H1056V1301H988ZM988 1301H1044V1312H988ZM988 1312H1022V1323H988ZM1067 1312H1089V1323H1067ZM977 1323H1011V1334H977ZM1067 1323H1089V1334H1067ZM988 1334H999V1344H988ZM1056 1334H1101V1344H1056ZM988 1344H999V1355H988ZM1056 1344H1101V1355H1056ZM988 1355H999V1366H988ZM1056 1355H1067V1366H1056ZM1078 1355H1101V1366H1078ZM977 1366H999V1377H977ZM1056 1366H1101V1377H1056ZM977 1377H988V1387H977ZM1056 1377H1101V1387H1056ZM977 1387H988V1398H977ZM1067 1387H1101V1398H1067ZM977 1398H988V1409H977ZM1056 1398H1101V1409H1056ZM1056 1409H1101V1419H1056ZM1033 1419H1078V1430H1033ZM1089 1419H1101V1430H1089ZM1022 1430H1089V1441H1022ZM999 1441H1033V1452H999Z"/>
<path fill="#a3c5ef" d="M977 1409H988V1419H977Z"/>
<path fill="#9dc2f0" d="M1056 1291H1078V1301H1056ZM1044 1301H1078V1312H1044ZM1022 1312H1033V1323H1022ZM1056 1312H1067V1323H1056ZM1011 1323H1022V1334H1011ZM1056 1323H1067V1334H1056ZM999 1334H1011V1344H999ZM1067 1355H1078V1366H1067ZM1056 1387H1067V1398H1056ZM1044 1409H1056V1419H1044Z"/>
<path fill="#99c1f0" d="M1033 1312H1056V1323H1033ZM1022 1323H1033V1334H1022ZM1044 1334H1056V1344H1044ZM999 1344H1011V1355H999ZM1044 1344H1056V1355H1044ZM1044 1355H1056V1366H1044ZM1044 1366H1056V1377H1044ZM988 1377H999V1387H988ZM1044 1377H1056V1387H1044Z"/>
<path fill="#96c0f0" d="M988 1387H999V1398H988ZM1022 1419H1033V1430H1022ZM1011 1430H1022V1441H1011Z"/>
<path fill="#8cbcf2" d="M1033 1323H1056V1334H1033ZM1011 1334H1033V1344H1011ZM1011 1344H1022V1355H1011ZM999 1355H1011V1366H999ZM1044 1387H1056V1398H1044ZM1044 1398H1056V1409H1044ZM1033 1409H1044V1419H1033Z"/>
<path fill="#88bbf2" d="M999 1366H1011V1377H999Z"/>
<path fill="#79b5f4" d="M1033 1334H1044V1344H1033ZM1033 1344H1044V1355H1033ZM1033 1355H1044V1366H1033ZM1033 1366H1044V1377H1033Z"/>
<path fill="#74b4f4" d="M1011 1355H1022V1366H1011ZM1033 1377H1044V1387H1033ZM1033 1387H1044V1398H1033ZM1033 1398H1044V1409H1033Z"/>
<path fill="#6cb2f5" d="M988 1441H999V1452H988Z"/>
<path fill="#62aff5" d="M1022 1344H1033V1355H1022Z"/>
<path fill="#5daef6" d="M999 1377H1011V1387H999Z"/>
<path fill="#36a6f7" d="M1022 1355H1033V1366H1022Z"/>
<path fill="#33a5f6" d="M988 1398H999V1409H988Z"/>
<path fill="#30a2f2" d="M977 1419H988V1430H977Z"/>
<path fill="#2d9eec" d="M1011 1366H1033V1377H1011ZM1022 1409H1033V1419H1022Z"/>
<path fill="#2c9cea" d="M1022 1377H1033V1387H1022ZM1022 1387H1033V1398H1022ZM1022 1398H1033V1409H1022ZM999 1430H1011V1441H999Z"/>
<path fill="#2a8fd7" d="M1011 1398H1022V1409H1011ZM1011 1409H1022V1419H1011Z"/>
<path fill="#2f84c4" d="M988 1430H999V1441H988Z"/>
<path fill="#327db8" d="M1011 1377H1022V1387H1011ZM999 1387H1011V1398H999Z"/>
<path fill="#3a6c99" d="M1011 1387H1022V1398H1011ZM988 1409H999V1419H988Z"/>
<path fill="#3a6a96" d="M999 1409H1011V1419H999Z"/>
<path fill="#3d5a78" d="M999 1398H1011V1409H999ZM988 1419H1022V1430H988ZM977 1430H988V1441H977ZM977 1441H988V1452H977Z"/></g>
<path d="M234 626L234 636M275 626L275 636M315 626L315 636M356 626L356 636M397 626L397 636M438 626L438 636M478 626L478 636M519 626L519 636M560 626L560 636M600 626L600 636M641 626L641 636M682 626L682 636M723 626L723 636M763 626L763 636M180 626L190 626M180 529L190 529M180 432L190 432M180 336L190 336M180 239L190 239M180 142L190 142M180 45L190 45M217 1478L217 1488M180 1454L190 1454M330 1478L330 1488M180 1345L190 1345M442 1478L442 1488M180 1236L190 1236M555 1478L555 1488M180 1127L190 1127M668 1478L668 1488M180 1018L190 1018M781 1478L781 1488M180 909L190 909M977 1478L977 1488M939 1452L949 1452M1089 1478L1089 1488M939 1344L949 1344M1202 1478L1202 1488M939 1237L949 1237M1314 1478L1314 1488M939 1130L949 1130M1426 1478L1426 1488M939 1023L949 1023M1539 1478L1539 1488M939 916L949 916" stroke="#000" stroke-width="2.22" fill="none"/>
<g>
<text transform="translate(244 831) rotate(-90)" font-size="29.2" textLength="180.64" lengthAdjust="spacingAndGlyphs">Fall-Detected</text>
<text transform="translate(283 742) rotate(-90)" font-size="29.2" textLength="93" lengthAdjust="spacingAndGlyphs">Gloves</text>
<text transform="translate(324 761) rotate(-90)" font-size="29.2" textLength="111" lengthAdjust="spacingAndGlyphs">Goggles</text>
<text transform="translate(366 760) rotate(-90)" font-size="29.2" textLength="109" lengthAdjust="spacingAndGlyphs">Hardhat</text>
<text transform="translate(407 744) rotate(-90)" font-size="29.2" textLength="94" lengthAdjust="spacingAndGlyphs">Ladder</text>
<text transform="translate(447 719) rotate(-90)" font-size="29.2" textLength="69" lengthAdjust="spacingAndGlyphs">Mask</text>
<text transform="translate(488 796.5) rotate(-90)" font-size="29.2" textLength="146.65" lengthAdjust="spacingAndGlyphs">NO-Gloves</text>
<text transform="translate(529 815.5) rotate(-90)" font-size="29.2" textLength="165.64" lengthAdjust="spacingAndGlyphs">NO-Goggles</text>
<text transform="translate(569 813) rotate(-90)" font-size="29.2" textLength="163" lengthAdjust="spacingAndGlyphs">NO-Hardhat</text>
<text transform="translate(610 773) rotate(-90)" font-size="29.2" textLength="122" lengthAdjust="spacingAndGlyphs">NO-Mask</text>
<text transform="translate(648 856) rotate(-90)" font-size="29.2" textLength="208" lengthAdjust="spacingAndGlyphs">NO-Safety Vest</text>
<text transform="translate(692 741) rotate(-90)" font-size="30.95" textLength="90.68" lengthAdjust="spacingAndGlyphs">Person</text>
<text transform="translate(730 814.5) rotate(-90)" font-size="29.2" textLength="167.81" lengthAdjust="spacingAndGlyphs">Safety Cone</text>
<text transform="translate(770 804) rotate(-90)" font-size="29.2" textLength="156" lengthAdjust="spacingAndGlyphs">Safety Vest</text>
<text x="152" y="638" font-size="32" textLength="17" lengthAdjust="spacingAndGlyphs">0</text>
<text x="94" y="541" font-size="32" textLength="75" lengthAdjust="spacingAndGlyphs">5000</text>
<text x="74" y="444" font-size="32" textLength="94.66" lengthAdjust="spacingAndGlyphs">10000</text>
<text x="74" y="347" font-size="32" textLength="94.66" lengthAdjust="spacingAndGlyphs">15000</text>
<text x="73.5" y="250" font-size="32" textLength="94.83" lengthAdjust="spacingAndGlyphs">20000</text>
<text x="73.5" y="153" font-size="32" textLength="94.83" lengthAdjust="spacingAndGlyphs">25000</text>
<text x="74" y="56" font-size="32" textLength="94" lengthAdjust="spacingAndGlyphs">30000</text>
<text transform="translate(58 406.5) rotate(-90)" font-size="32" textLength="143.65" lengthAdjust="spacingAndGlyphs">instances</text>
<text x="490" y="1561" font-size="32" textLength="18" lengthAdjust="spacingAndGlyphs">x</text>
<text transform="translate(103 1193) rotate(-90)" font-size="30.08" textLength="16.4" lengthAdjust="spacingAndGlyphs">y</text>
<text x="1217" y="1561" font-size="32" textLength="82" lengthAdjust="spacingAndGlyphs">width</text>
<text transform="translate(865 1234) rotate(-90)" font-size="30.08" textLength="95" lengthAdjust="spacingAndGlyphs">height</text>
<text x="193.25" y="1521" font-size="32" textLength="46.86" lengthAdjust="spacingAndGlyphs">0.0</text>
<text x="123" y="1465" font-size="32" textLength="46" lengthAdjust="spacingAndGlyphs">0.0</text>
<text x="953.2" y="1521" font-size="32" textLength="46.86" lengthAdjust="spacingAndGlyphs">0.0</text>
<text x="882" y="1463" font-size="32" textLength="46" lengthAdjust="spacingAndGlyphs">0.0</text>
<text x="306.2" y="1521" font-size="32" textLength="46.86" lengthAdjust="spacingAndGlyphs">0.2</text>
<text x="122.5" y="1356.35" font-size="32" textLength="46.86" lengthAdjust="spacingAndGlyphs">0.2</text>
<text x="1066.35" y="1521" font-size="32" textLength="46" lengthAdjust="spacingAndGlyphs">0.2</text>
<text x="881.5" y="1355.6" font-size="32" textLength="46.86" lengthAdjust="spacingAndGlyphs">0.2</text>
<text x="419.65" y="1521" font-size="32" textLength="45.18" lengthAdjust="spacingAndGlyphs">0.4</text>
<text x="123" y="1246.7" font-size="32" textLength="46" lengthAdjust="spacingAndGlyphs">0.4</text>
<text x="1178.5" y="1521" font-size="32" textLength="46" lengthAdjust="spacingAndGlyphs">0.4</text>
<text x="882" y="1248.2" font-size="32" textLength="46" lengthAdjust="spacingAndGlyphs">0.4</text>
<text x="531.6" y="1521" font-size="32" textLength="46.86" lengthAdjust="spacingAndGlyphs">0.6</text>
<text x="123" y="1138.05" font-size="32" textLength="46" lengthAdjust="spacingAndGlyphs">0.6</text>
<text x="1291.15" y="1521" font-size="32" textLength="46" lengthAdjust="spacingAndGlyphs">0.6</text>
<text x="882" y="1141.8" font-size="32" textLength="46" lengthAdjust="spacingAndGlyphs">0.6</text>
<text x="645.05" y="1521" font-size="32" textLength="46.02" lengthAdjust="spacingAndGlyphs">0.8</text>
<text x="123" y="1029.4" font-size="32" textLength="46" lengthAdjust="spacingAndGlyphs">0.8</text>
<text x="1403.3" y="1521" font-size="32" textLength="46.02" lengthAdjust="spacingAndGlyphs">0.8</text>
<text x="882" y="1034.4" font-size="32" textLength="46" lengthAdjust="spacingAndGlyphs">0.8</text>
<text x="756.9" y="1521" font-size="32" textLength="45.73" lengthAdjust="spacingAndGlyphs">1.0</text>
<text x="122.5" y="919.75" font-size="32" textLength="45.76" lengthAdjust="spacingAndGlyphs">1.0</text>
<text x="1514.85" y="1521" font-size="32" textLength="45.73" lengthAdjust="spacingAndGlyphs">1.0</text>
<text x="881.5" y="927" font-size="32" textLength="45.76" lengthAdjust="spacingAndGlyphs">1.0</text>
</g>
</svg></body></html>
